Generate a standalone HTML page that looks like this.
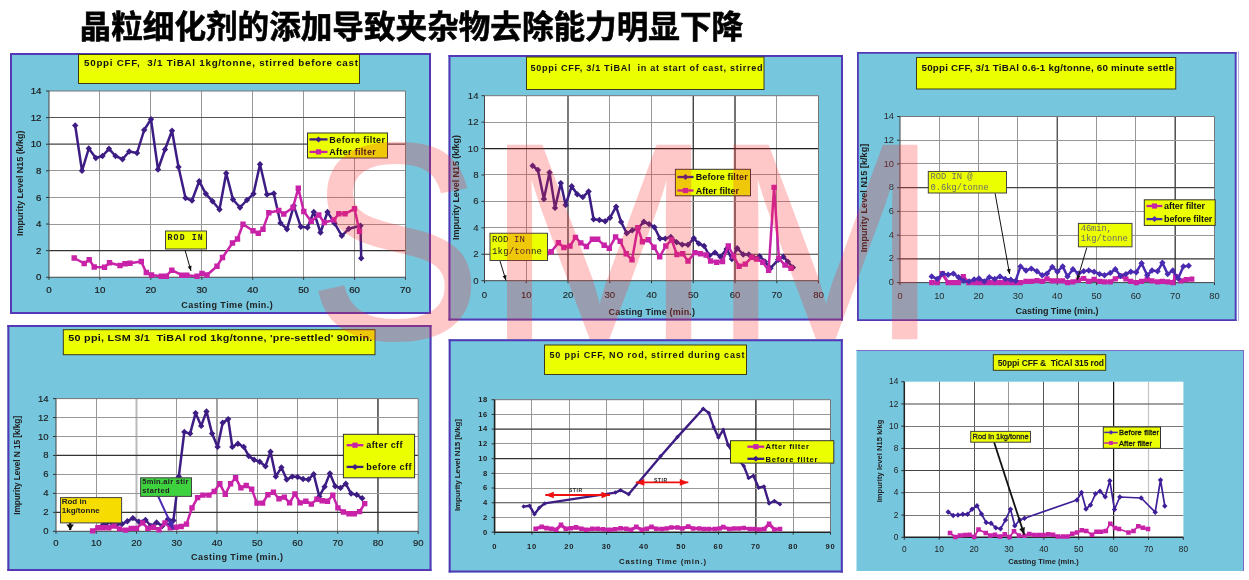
<!DOCTYPE html>
<html lang="zh-CN">
<head>
<meta charset="utf-8">
<title>晶粒细化剂的添加导致夹杂物去除能力明显下降</title>
<style>
html,body{margin:0;padding:0;background:#fff;overflow:hidden}
body{width:1249px;height:580px;position:relative;font-family:"Liberation Sans","Noto Sans CJK SC",sans-serif}
svg{position:absolute;left:0;top:0;display:block}
svg text{font-family:"Liberation Sans","Noto Sans CJK SC",sans-serif}
svg text.mono{font-family:"Liberation Mono","DejaVu Sans Mono",monospace}
h1{position:absolute;margin:0;-webkit-text-stroke:0.6px #000;left:79.6px;top:6.8px;font-size:31.6px;line-height:40px;font-weight:bold;color:#000;white-space:nowrap;letter-spacing:0px;font-family:"Liberation Sans","Noto Sans CJK SC",sans-serif}
.wm{position:absolute;top:102.2px;font-size:272px;line-height:1;color:#ff2a2a;-webkit-text-stroke:2.6px #ff2a2a;opacity:0.25;font-weight:normal;white-space:nowrap;font-family:"Liberation Sans",sans-serif;pointer-events:none;transform-origin:0 0}
.wmark{position:absolute;left:0;top:0;width:1249px;height:580px;overflow:hidden;pointer-events:none}
.wm{display:block}
.wms{left:307.5px;transform:scale(0.9586,1.026)}
.wmm{left:485.7px;transform:scale(0.9985,1.026)}
</style>
</head>
<body>
<h1>晶粒细化剂的添加导致夹杂物去除能力明显下降</h1>
<svg width="1249" height="580" viewBox="0 0 1249 580">
<rect x="10.00" y="53.00" width="421.00" height="261.00" fill="#76C6DE" stroke="none" stroke-width="1" />
<line x1="10.00" y1="54.00" x2="431.00" y2="54.00" stroke="#5438B6" stroke-width="2" />
<line x1="10.00" y1="313.00" x2="431.00" y2="313.00" stroke="#5438B6" stroke-width="2" />
<line x1="11.00" y1="53.00" x2="11.00" y2="314.00" stroke="#5438B6" stroke-width="2" />
<line x1="430.00" y1="53.00" x2="430.00" y2="314.00" stroke="#5438B6" stroke-width="2" />
<rect x="78.50" y="54.50" width="281.00" height="29.00" fill="#EBFF00" stroke="#3a3a20" stroke-width="1" />
<text x="84.00" y="66.30" font-size="9.8" font-weight="bold" text-anchor="start" fill="#141414" style="white-space:pre" textLength="274.0" lengthAdjust="spacing">50ppi CFF,  3/1 TiBAl 1kg/tonne, stirred before cast</text>
<rect x="49.00" y="91.00" width="356.50" height="186.25" fill="#fff" stroke="none" stroke-width="1" />
<line x1="49.00" y1="277.25" x2="49.00" y2="279.75" stroke="#333" stroke-width="1" />
<text x="49.00" y="293.20" font-size="9.7" font-weight="normal" text-anchor="middle" fill="#1c1c1c" stroke="#1c1c1c" stroke-width="0.22">0</text>
<line x1="99.50" y1="91.00" x2="99.50" y2="277.25" stroke="#989898" stroke-width="1" />
<line x1="99.93" y1="277.25" x2="99.93" y2="279.75" stroke="#333" stroke-width="1" />
<text x="99.93" y="293.20" font-size="9.7" font-weight="normal" text-anchor="middle" fill="#1c1c1c" stroke="#1c1c1c" stroke-width="0.22">10</text>
<line x1="150.50" y1="91.00" x2="150.50" y2="277.25" stroke="#989898" stroke-width="1" />
<line x1="150.86" y1="277.25" x2="150.86" y2="279.75" stroke="#333" stroke-width="1" />
<text x="150.86" y="293.20" font-size="9.7" font-weight="normal" text-anchor="middle" fill="#1c1c1c" stroke="#1c1c1c" stroke-width="0.22">20</text>
<line x1="201.50" y1="91.00" x2="201.50" y2="277.25" stroke="#989898" stroke-width="1" />
<line x1="201.79" y1="277.25" x2="201.79" y2="279.75" stroke="#333" stroke-width="1" />
<text x="201.79" y="293.20" font-size="9.7" font-weight="normal" text-anchor="middle" fill="#1c1c1c" stroke="#1c1c1c" stroke-width="0.22">30</text>
<line x1="252.50" y1="91.00" x2="252.50" y2="277.25" stroke="#989898" stroke-width="1" />
<line x1="252.71" y1="277.25" x2="252.71" y2="279.75" stroke="#333" stroke-width="1" />
<text x="252.71" y="293.20" font-size="9.7" font-weight="normal" text-anchor="middle" fill="#1c1c1c" stroke="#1c1c1c" stroke-width="0.22">40</text>
<line x1="303.50" y1="91.00" x2="303.50" y2="277.25" stroke="#989898" stroke-width="1" />
<line x1="303.64" y1="277.25" x2="303.64" y2="279.75" stroke="#333" stroke-width="1" />
<text x="303.64" y="293.20" font-size="9.7" font-weight="normal" text-anchor="middle" fill="#1c1c1c" stroke="#1c1c1c" stroke-width="0.22">50</text>
<line x1="354.50" y1="91.00" x2="354.50" y2="277.25" stroke="#989898" stroke-width="1" />
<line x1="354.57" y1="277.25" x2="354.57" y2="279.75" stroke="#333" stroke-width="1" />
<text x="354.57" y="293.20" font-size="9.7" font-weight="normal" text-anchor="middle" fill="#1c1c1c" stroke="#1c1c1c" stroke-width="0.22">60</text>
<line x1="405.50" y1="277.25" x2="405.50" y2="279.75" stroke="#333" stroke-width="1" />
<text x="405.50" y="293.20" font-size="9.7" font-weight="normal" text-anchor="middle" fill="#1c1c1c" stroke="#1c1c1c" stroke-width="0.22">70</text>
<line x1="46.00" y1="277.25" x2="49.00" y2="277.25" stroke="#333" stroke-width="1" />
<text x="41.50" y="280.34" font-size="9.7" font-weight="normal" text-anchor="end" fill="#1c1c1c" stroke="#1c1c1c" stroke-width="0.22">0</text>
<line x1="49.00" y1="250.64" x2="405.50" y2="250.64" stroke="#333" stroke-width="1.3" />
<line x1="46.00" y1="250.64" x2="49.00" y2="250.64" stroke="#333" stroke-width="1" />
<text x="41.50" y="253.73" font-size="9.7" font-weight="normal" text-anchor="end" fill="#1c1c1c" stroke="#1c1c1c" stroke-width="0.22">2</text>
<line x1="49.00" y1="224.50" x2="405.50" y2="224.50" stroke="#989898" stroke-width="1" />
<line x1="46.00" y1="224.04" x2="49.00" y2="224.04" stroke="#333" stroke-width="1" />
<text x="41.50" y="227.13" font-size="9.7" font-weight="normal" text-anchor="end" fill="#1c1c1c" stroke="#1c1c1c" stroke-width="0.22">4</text>
<line x1="49.00" y1="197.50" x2="405.50" y2="197.50" stroke="#989898" stroke-width="1" />
<line x1="46.00" y1="197.43" x2="49.00" y2="197.43" stroke="#333" stroke-width="1" />
<text x="41.50" y="200.52" font-size="9.7" font-weight="normal" text-anchor="end" fill="#1c1c1c" stroke="#1c1c1c" stroke-width="0.22">6</text>
<line x1="49.00" y1="170.50" x2="405.50" y2="170.50" stroke="#989898" stroke-width="1" />
<line x1="46.00" y1="170.82" x2="49.00" y2="170.82" stroke="#333" stroke-width="1" />
<text x="41.50" y="173.91" font-size="9.7" font-weight="normal" text-anchor="end" fill="#1c1c1c" stroke="#1c1c1c" stroke-width="0.22">8</text>
<line x1="49.00" y1="144.21" x2="405.50" y2="144.21" stroke="#444" stroke-width="1.2" />
<line x1="46.00" y1="144.21" x2="49.00" y2="144.21" stroke="#333" stroke-width="1" />
<text x="41.50" y="147.31" font-size="9.7" font-weight="normal" text-anchor="end" fill="#1c1c1c" stroke="#1c1c1c" stroke-width="0.22">10</text>
<line x1="49.00" y1="117.50" x2="405.50" y2="117.50" stroke="#555" stroke-width="1" />
<line x1="46.00" y1="117.61" x2="49.00" y2="117.61" stroke="#333" stroke-width="1" />
<text x="41.50" y="120.70" font-size="9.7" font-weight="normal" text-anchor="end" fill="#1c1c1c" stroke="#1c1c1c" stroke-width="0.22">12</text>
<line x1="46.00" y1="91.00" x2="49.00" y2="91.00" stroke="#333" stroke-width="1" />
<text x="41.50" y="94.09" font-size="9.7" font-weight="normal" text-anchor="end" fill="#1c1c1c" stroke="#1c1c1c" stroke-width="0.22">14</text>
<line x1="49.00" y1="91.00" x2="405.50" y2="91.00" stroke="#777" stroke-width="1" />
<line x1="405.50" y1="91.00" x2="405.50" y2="277.25" stroke="#777" stroke-width="1" />
<line x1="49.00" y1="277.25" x2="405.50" y2="277.25" stroke="#444" stroke-width="1" />
<line x1="49.00" y1="91.00" x2="49.00" y2="277.25" stroke="#444" stroke-width="1" />
<text x="227.00" y="308.20" font-size="9" font-weight="bold" text-anchor="middle" fill="#222"  textLength="91.5" lengthAdjust="spacing">Casting Time (min.)</text>
<text transform="translate(22.8 183.3) rotate(-90)" font-size="9" font-weight="bold" text-anchor="middle" fill="#222" textLength="105.4" lengthAdjust="spacing">Impurity Level N15 (k/kg)</text>
<polyline points="75.2,125.5 82.0,170.8 88.8,148.5 95.8,158.0 102.5,156.0 109.0,148.8 115.5,156.0 122.5,159.2 129.2,151.5 137.0,153.0 144.2,130.0 151.0,119.2 158.0,169.5 165.0,149.5 172.0,130.8 178.5,167.0 185.5,198.0 192.0,200.5 199.2,181.2 205.8,193.8 212.5,201.2 219.5,209.5 226.2,173.2 233.0,199.5 240.0,207.5 247.0,200.0 253.5,193.8 260.0,164.2 267.0,194.5 273.8,193.5 280.5,223.0 287.0,229.2 293.8,205.8 300.8,226.8 307.5,227.5 313.8,212.0 320.5,232.5 327.5,212.0 334.5,223.2 341.8,235.8 348.8,228.8 360.5,225.8 361.2,258.2" fill="none" stroke="#3D1D84" stroke-width="2.5" stroke-linejoin="round"/>
<path d="M75.2 122.3l3.2 3.2l-3.2 3.2l-3.2 -3.2zM82.0 167.6l3.2 3.2l-3.2 3.2l-3.2 -3.2zM88.8 145.3l3.2 3.2l-3.2 3.2l-3.2 -3.2zM95.8 154.8l3.2 3.2l-3.2 3.2l-3.2 -3.2zM102.5 152.8l3.2 3.2l-3.2 3.2l-3.2 -3.2zM109.0 145.6l3.2 3.2l-3.2 3.2l-3.2 -3.2zM115.5 152.8l3.2 3.2l-3.2 3.2l-3.2 -3.2zM122.5 156.1l3.2 3.2l-3.2 3.2l-3.2 -3.2zM129.2 148.3l3.2 3.2l-3.2 3.2l-3.2 -3.2zM137.0 149.8l3.2 3.2l-3.2 3.2l-3.2 -3.2zM144.2 126.8l3.2 3.2l-3.2 3.2l-3.2 -3.2zM151.0 116.0l3.2 3.2l-3.2 3.2l-3.2 -3.2zM158.0 166.3l3.2 3.2l-3.2 3.2l-3.2 -3.2zM165.0 146.3l3.2 3.2l-3.2 3.2l-3.2 -3.2zM172.0 127.5l3.2 3.2l-3.2 3.2l-3.2 -3.2zM178.5 163.8l3.2 3.2l-3.2 3.2l-3.2 -3.2zM185.5 194.8l3.2 3.2l-3.2 3.2l-3.2 -3.2zM192.0 197.3l3.2 3.2l-3.2 3.2l-3.2 -3.2zM199.2 178.1l3.2 3.2l-3.2 3.2l-3.2 -3.2zM205.8 190.6l3.2 3.2l-3.2 3.2l-3.2 -3.2zM212.5 198.1l3.2 3.2l-3.2 3.2l-3.2 -3.2zM219.5 206.3l3.2 3.2l-3.2 3.2l-3.2 -3.2zM226.2 170.1l3.2 3.2l-3.2 3.2l-3.2 -3.2zM233.0 196.3l3.2 3.2l-3.2 3.2l-3.2 -3.2zM240.0 204.3l3.2 3.2l-3.2 3.2l-3.2 -3.2zM247.0 196.8l3.2 3.2l-3.2 3.2l-3.2 -3.2zM253.5 190.6l3.2 3.2l-3.2 3.2l-3.2 -3.2zM260.0 161.1l3.2 3.2l-3.2 3.2l-3.2 -3.2zM267.0 191.3l3.2 3.2l-3.2 3.2l-3.2 -3.2zM273.8 190.3l3.2 3.2l-3.2 3.2l-3.2 -3.2zM280.5 219.8l3.2 3.2l-3.2 3.2l-3.2 -3.2zM287.0 226.1l3.2 3.2l-3.2 3.2l-3.2 -3.2zM293.8 202.6l3.2 3.2l-3.2 3.2l-3.2 -3.2zM300.8 223.6l3.2 3.2l-3.2 3.2l-3.2 -3.2zM307.5 224.3l3.2 3.2l-3.2 3.2l-3.2 -3.2zM313.8 208.8l3.2 3.2l-3.2 3.2l-3.2 -3.2zM320.5 229.3l3.2 3.2l-3.2 3.2l-3.2 -3.2zM327.5 208.8l3.2 3.2l-3.2 3.2l-3.2 -3.2zM334.5 220.1l3.2 3.2l-3.2 3.2l-3.2 -3.2zM341.8 232.6l3.2 3.2l-3.2 3.2l-3.2 -3.2zM348.8 225.6l3.2 3.2l-3.2 3.2l-3.2 -3.2zM360.5 222.6l3.2 3.2l-3.2 3.2l-3.2 -3.2zM361.2 255.1l3.2 3.2l-3.2 3.2l-3.2 -3.2z" fill="#3D1D84"/>
<polyline points="74.2,258.0 84.2,263.5 89.2,259.8 94.2,267.0 104.5,267.2 109.5,262.8 120.0,265.5 125.0,263.8 130.0,263.2 141.2,261.5 146.2,272.5 151.5,275.0 161.2,276.2 166.2,276.2 171.8,270.2 181.8,275.2 186.8,275.2 197.0,276.2 202.0,273.5 207.0,275.0 217.0,266.2 222.5,257.5 232.5,243.0 237.5,239.0 243.0,224.2 253.0,230.8 258.2,233.2 263.0,229.2 268.8,212.8 278.8,210.5 283.8,214.0 293.0,207.5 298.3,188.3 303.8,211.5 311.2,221.2 318.8,215.0 324.2,222.5 333.8,220.0 338.8,213.8 345.0,213.8 354.5,208.8 359.5,231.2" fill="none" stroke="#C822A8" stroke-width="2.5" stroke-linejoin="round"/>
<path d="M71.5 255.3h5.4v5.4h-5.4zM81.5 260.8h5.4v5.4h-5.4zM86.5 257.1h5.4v5.4h-5.4zM91.5 264.3h5.4v5.4h-5.4zM101.8 264.6h5.4v5.4h-5.4zM106.8 260.1h5.4v5.4h-5.4zM117.3 262.8h5.4v5.4h-5.4zM122.3 261.1h5.4v5.4h-5.4zM127.3 260.6h5.4v5.4h-5.4zM138.6 258.8h5.4v5.4h-5.4zM143.6 269.8h5.4v5.4h-5.4zM148.8 272.3h5.4v5.4h-5.4zM158.6 273.6h5.4v5.4h-5.4zM163.6 273.6h5.4v5.4h-5.4zM169.1 267.6h5.4v5.4h-5.4zM179.1 272.6h5.4v5.4h-5.4zM184.1 272.6h5.4v5.4h-5.4zM194.3 273.6h5.4v5.4h-5.4zM199.3 270.8h5.4v5.4h-5.4zM204.3 272.3h5.4v5.4h-5.4zM214.3 263.6h5.4v5.4h-5.4zM219.8 254.8h5.4v5.4h-5.4zM229.8 240.3h5.4v5.4h-5.4zM234.8 236.3h5.4v5.4h-5.4zM240.3 221.6h5.4v5.4h-5.4zM250.3 228.1h5.4v5.4h-5.4zM255.6 230.6h5.4v5.4h-5.4zM260.3 226.6h5.4v5.4h-5.4zM266.1 210.1h5.4v5.4h-5.4zM276.1 207.8h5.4v5.4h-5.4zM281.1 211.3h5.4v5.4h-5.4zM290.3 204.8h5.4v5.4h-5.4zM295.6 185.6h5.4v5.4h-5.4zM301.1 208.8h5.4v5.4h-5.4zM308.6 218.6h5.4v5.4h-5.4zM316.1 212.3h5.4v5.4h-5.4zM321.6 219.8h5.4v5.4h-5.4zM331.1 217.3h5.4v5.4h-5.4zM336.1 211.1h5.4v5.4h-5.4zM342.3 211.1h5.4v5.4h-5.4zM351.8 206.1h5.4v5.4h-5.4zM356.8 228.6h5.4v5.4h-5.4z" fill="#C822A8"/>
<rect x="307.50" y="133.00" width="80.00" height="25.00" fill="#EBFF00" stroke="#333" stroke-width="1" />
<line x1="309.50" y1="139.40" x2="327.50" y2="139.40" stroke="#3D1D84" stroke-width="2.3" />
<path d="M318.5 136.4l3.0 3.0l-3.0 3.0l-3.0 -3.0z" fill="#3D1D84"/>
<text x="329.25" y="142.64" font-size="9" font-weight="bold" text-anchor="start" fill="#111"  textLength="55.8" lengthAdjust="spacing">Before filter</text>
<line x1="309.50" y1="151.90" x2="327.50" y2="151.90" stroke="#C822A8" stroke-width="2.3" />
<rect x="315.90" y="149.30" width="5.20" height="5.20" fill="#C822A8" stroke="none" stroke-width="1" />
<text x="329.25" y="155.14" font-size="9" font-weight="bold" text-anchor="start" fill="#111"  textLength="46.5" lengthAdjust="spacing">After filter</text>
<line x1="185.00" y1="250.00" x2="191.00" y2="271.00" stroke="#111" stroke-width="1" />
<path d="M191.0 271.0L187.7 266.7L191.5 265.6z" fill="#111"/>
<rect x="165.50" y="231.00" width="41.00" height="18.00" fill="#EBFF00" stroke="#444" stroke-width="1" />
<text class="mono" x="167.60" y="239.60" font-size="8.2" font-weight="bold" text-anchor="start" fill="#222"  textLength="35.0" lengthAdjust="spacing">ROD IN</text>
<rect x="448.50" y="55.00" width="394.50" height="265.50" fill="#76C6DE" stroke="none" stroke-width="1" />
<line x1="448.50" y1="56.00" x2="843.00" y2="56.00" stroke="#5438B6" stroke-width="2" />
<line x1="448.50" y1="319.50" x2="843.00" y2="319.50" stroke="#5438B6" stroke-width="2" />
<line x1="449.50" y1="55.00" x2="449.50" y2="320.50" stroke="#5438B6" stroke-width="2" />
<line x1="842.00" y1="55.00" x2="842.00" y2="320.50" stroke="#5438B6" stroke-width="2" />
<rect x="526.50" y="57.00" width="237.50" height="32.50" fill="#EBFF00" stroke="#3a3a20" stroke-width="1" />
<text x="530.50" y="71.30" font-size="9.1" font-weight="bold" text-anchor="start" fill="#141414" style="white-space:pre" textLength="232.0" lengthAdjust="spacing">50ppi CFF, 3/1 TiBAl  in at start of cast, stirred</text>
<rect x="484.50" y="95.70" width="334.00" height="185.00" fill="#fff" stroke="none" stroke-width="1" />
<line x1="484.50" y1="280.70" x2="484.50" y2="283.20" stroke="#333" stroke-width="1" />
<text x="484.50" y="298.30" font-size="9.6" font-weight="normal" text-anchor="middle" fill="#222" stroke="#222" stroke-width="0.1">0</text>
<line x1="526.50" y1="95.70" x2="526.50" y2="280.70" stroke="#989898" stroke-width="1" />
<line x1="526.25" y1="280.70" x2="526.25" y2="283.20" stroke="#333" stroke-width="1" />
<text x="526.25" y="298.30" font-size="9.6" font-weight="normal" text-anchor="middle" fill="#222" stroke="#222" stroke-width="0.1">10</text>
<line x1="568.00" y1="95.70" x2="568.00" y2="280.70" stroke="#222" stroke-width="1.2" />
<line x1="568.00" y1="280.70" x2="568.00" y2="283.20" stroke="#333" stroke-width="1" />
<text x="568.00" y="298.30" font-size="9.6" font-weight="normal" text-anchor="middle" fill="#222" stroke="#222" stroke-width="0.1">20</text>
<line x1="609.50" y1="95.70" x2="609.50" y2="280.70" stroke="#989898" stroke-width="1" />
<line x1="609.75" y1="280.70" x2="609.75" y2="283.20" stroke="#333" stroke-width="1" />
<text x="609.75" y="298.30" font-size="9.6" font-weight="normal" text-anchor="middle" fill="#222" stroke="#222" stroke-width="0.1">30</text>
<line x1="651.50" y1="95.70" x2="651.50" y2="280.70" stroke="#989898" stroke-width="1" />
<line x1="651.50" y1="280.70" x2="651.50" y2="283.20" stroke="#333" stroke-width="1" />
<text x="651.50" y="298.30" font-size="9.6" font-weight="normal" text-anchor="middle" fill="#222" stroke="#222" stroke-width="0.1">40</text>
<line x1="693.25" y1="95.70" x2="693.25" y2="280.70" stroke="#222" stroke-width="1.2" />
<line x1="693.25" y1="280.70" x2="693.25" y2="283.20" stroke="#333" stroke-width="1" />
<text x="693.25" y="298.30" font-size="9.6" font-weight="normal" text-anchor="middle" fill="#222" stroke="#222" stroke-width="0.1">50</text>
<line x1="735.00" y1="95.70" x2="735.00" y2="280.70" stroke="#444" stroke-width="1.5" />
<line x1="735.00" y1="280.70" x2="735.00" y2="283.20" stroke="#333" stroke-width="1" />
<text x="735.00" y="298.30" font-size="9.6" font-weight="normal" text-anchor="middle" fill="#222" stroke="#222" stroke-width="0.1">60</text>
<line x1="776.50" y1="95.70" x2="776.50" y2="280.70" stroke="#989898" stroke-width="1" />
<line x1="776.75" y1="280.70" x2="776.75" y2="283.20" stroke="#333" stroke-width="1" />
<text x="776.75" y="298.30" font-size="9.6" font-weight="normal" text-anchor="middle" fill="#222" stroke="#222" stroke-width="0.1">70</text>
<line x1="818.50" y1="280.70" x2="818.50" y2="283.20" stroke="#333" stroke-width="1" />
<text x="818.50" y="298.30" font-size="9.6" font-weight="normal" text-anchor="middle" fill="#222" stroke="#222" stroke-width="0.1">80</text>
<line x1="481.50" y1="280.70" x2="484.50" y2="280.70" stroke="#333" stroke-width="1" />
<text x="478.50" y="283.76" font-size="9.6" font-weight="normal" text-anchor="end" fill="#222" stroke="#222" stroke-width="0.1">0</text>
<line x1="484.50" y1="254.27" x2="818.50" y2="254.27" stroke="#333" stroke-width="1.2" />
<line x1="481.50" y1="254.27" x2="484.50" y2="254.27" stroke="#333" stroke-width="1" />
<text x="478.50" y="257.33" font-size="9.6" font-weight="normal" text-anchor="end" fill="#222" stroke="#222" stroke-width="0.1">2</text>
<line x1="484.50" y1="227.50" x2="818.50" y2="227.50" stroke="#989898" stroke-width="1" />
<line x1="481.50" y1="227.84" x2="484.50" y2="227.84" stroke="#333" stroke-width="1" />
<text x="478.50" y="230.90" font-size="9.6" font-weight="normal" text-anchor="end" fill="#222" stroke="#222" stroke-width="0.1">4</text>
<line x1="484.50" y1="201.50" x2="818.50" y2="201.50" stroke="#989898" stroke-width="1" />
<line x1="481.50" y1="201.41" x2="484.50" y2="201.41" stroke="#333" stroke-width="1" />
<text x="478.50" y="204.47" font-size="9.6" font-weight="normal" text-anchor="end" fill="#222" stroke="#222" stroke-width="0.1">6</text>
<line x1="484.50" y1="174.50" x2="818.50" y2="174.50" stroke="#989898" stroke-width="1" />
<line x1="481.50" y1="174.99" x2="484.50" y2="174.99" stroke="#333" stroke-width="1" />
<text x="478.50" y="178.04" font-size="9.6" font-weight="normal" text-anchor="end" fill="#222" stroke="#222" stroke-width="0.1">8</text>
<line x1="484.50" y1="148.56" x2="818.50" y2="148.56" stroke="#222" stroke-width="1.2" />
<line x1="481.50" y1="148.56" x2="484.50" y2="148.56" stroke="#333" stroke-width="1" />
<text x="478.50" y="151.61" font-size="9.6" font-weight="normal" text-anchor="end" fill="#222" stroke="#222" stroke-width="0.1">10</text>
<line x1="484.50" y1="122.50" x2="818.50" y2="122.50" stroke="#989898" stroke-width="1" />
<line x1="481.50" y1="122.13" x2="484.50" y2="122.13" stroke="#333" stroke-width="1" />
<text x="478.50" y="125.18" font-size="9.6" font-weight="normal" text-anchor="end" fill="#222" stroke="#222" stroke-width="0.1">12</text>
<line x1="481.50" y1="95.70" x2="484.50" y2="95.70" stroke="#333" stroke-width="1" />
<text x="478.50" y="98.76" font-size="9.6" font-weight="normal" text-anchor="end" fill="#222" stroke="#222" stroke-width="0.1">14</text>
<line x1="484.50" y1="95.70" x2="818.50" y2="95.70" stroke="#777" stroke-width="1" />
<line x1="818.50" y1="95.70" x2="818.50" y2="280.70" stroke="#777" stroke-width="1" />
<line x1="484.50" y1="280.70" x2="818.50" y2="280.70" stroke="#444" stroke-width="1" />
<line x1="484.50" y1="95.70" x2="484.50" y2="280.70" stroke="#444" stroke-width="1" />
<text x="651.75" y="315.20" font-size="9" font-weight="bold" text-anchor="middle" fill="#222"  textLength="86.5" lengthAdjust="spacing">Casting Time (min.)</text>
<text transform="translate(458.9 187.5) rotate(-90)" font-size="9" font-weight="bold" text-anchor="middle" fill="#222" textLength="105.0" lengthAdjust="spacing">Impurity Level N15 (k/kg)</text>
<polyline points="532.6,165.7 537.9,170.0 543.9,199.0 549.5,172.4 555.0,207.9 560.8,183.1 565.6,205.0 571.7,186.2 577.2,194.2 582.8,197.1 588.6,191.5 593.6,219.3 599.4,220.0 605.2,221.2 610.0,217.8 616.1,206.7 621.1,221.9 626.7,233.3 632.2,230.4 638.0,228.4 643.8,221.7 649.1,224.1 654.4,227.2 660.0,238.6 665.3,238.6 670.8,236.9 676.6,242.2 682.2,244.6 688.0,244.8 693.8,238.3 698.8,243.6 704.1,246.0 709.4,255.5 715.0,252.6 720.5,256.9 726.6,248.9 731.9,259.1 737.2,248.2 743.2,254.5 748.8,254.5 754.3,257.9 759.6,256.2 764.9,261.5 770.5,268.2 778.2,259.8 783.3,256.7 787.9,261.7 792.9,267.5" fill="none" stroke="#3D1D84" stroke-width="2.5" stroke-linejoin="round"/>
<path d="M532.6 162.5l3.2 3.2l-3.2 3.2l-3.2 -3.2zM537.9 166.8l3.2 3.2l-3.2 3.2l-3.2 -3.2zM543.9 195.8l3.2 3.2l-3.2 3.2l-3.2 -3.2zM549.5 169.2l3.2 3.2l-3.2 3.2l-3.2 -3.2zM555.0 204.7l3.2 3.2l-3.2 3.2l-3.2 -3.2zM560.8 179.9l3.2 3.2l-3.2 3.2l-3.2 -3.2zM565.6 201.8l3.2 3.2l-3.2 3.2l-3.2 -3.2zM571.7 183.0l3.2 3.2l-3.2 3.2l-3.2 -3.2zM577.2 191.0l3.2 3.2l-3.2 3.2l-3.2 -3.2zM582.8 193.9l3.2 3.2l-3.2 3.2l-3.2 -3.2zM588.6 188.3l3.2 3.2l-3.2 3.2l-3.2 -3.2zM593.6 216.1l3.2 3.2l-3.2 3.2l-3.2 -3.2zM599.4 216.8l3.2 3.2l-3.2 3.2l-3.2 -3.2zM605.2 218.0l3.2 3.2l-3.2 3.2l-3.2 -3.2zM610.0 214.6l3.2 3.2l-3.2 3.2l-3.2 -3.2zM616.1 203.5l3.2 3.2l-3.2 3.2l-3.2 -3.2zM621.1 218.7l3.2 3.2l-3.2 3.2l-3.2 -3.2zM626.7 230.1l3.2 3.2l-3.2 3.2l-3.2 -3.2zM632.2 227.2l3.2 3.2l-3.2 3.2l-3.2 -3.2zM638.0 225.2l3.2 3.2l-3.2 3.2l-3.2 -3.2zM643.8 218.5l3.2 3.2l-3.2 3.2l-3.2 -3.2zM649.1 220.9l3.2 3.2l-3.2 3.2l-3.2 -3.2zM654.4 224.0l3.2 3.2l-3.2 3.2l-3.2 -3.2zM660.0 235.4l3.2 3.2l-3.2 3.2l-3.2 -3.2zM665.3 235.4l3.2 3.2l-3.2 3.2l-3.2 -3.2zM670.8 233.7l3.2 3.2l-3.2 3.2l-3.2 -3.2zM676.6 239.0l3.2 3.2l-3.2 3.2l-3.2 -3.2zM682.2 241.4l3.2 3.2l-3.2 3.2l-3.2 -3.2zM688.0 241.6l3.2 3.2l-3.2 3.2l-3.2 -3.2zM693.8 235.1l3.2 3.2l-3.2 3.2l-3.2 -3.2zM698.8 240.4l3.2 3.2l-3.2 3.2l-3.2 -3.2zM704.1 242.8l3.2 3.2l-3.2 3.2l-3.2 -3.2zM709.4 252.3l3.2 3.2l-3.2 3.2l-3.2 -3.2zM715.0 249.4l3.2 3.2l-3.2 3.2l-3.2 -3.2zM720.5 253.7l3.2 3.2l-3.2 3.2l-3.2 -3.2zM726.6 245.7l3.2 3.2l-3.2 3.2l-3.2 -3.2zM731.9 255.9l3.2 3.2l-3.2 3.2l-3.2 -3.2zM737.2 245.0l3.2 3.2l-3.2 3.2l-3.2 -3.2zM743.2 251.3l3.2 3.2l-3.2 3.2l-3.2 -3.2zM748.8 251.3l3.2 3.2l-3.2 3.2l-3.2 -3.2zM754.3 254.7l3.2 3.2l-3.2 3.2l-3.2 -3.2zM759.6 253.0l3.2 3.2l-3.2 3.2l-3.2 -3.2zM764.9 258.3l3.2 3.2l-3.2 3.2l-3.2 -3.2zM770.5 265.0l3.2 3.2l-3.2 3.2l-3.2 -3.2zM778.2 256.6l3.2 3.2l-3.2 3.2l-3.2 -3.2zM783.3 253.5l3.2 3.2l-3.2 3.2l-3.2 -3.2zM787.9 258.5l3.2 3.2l-3.2 3.2l-3.2 -3.2zM792.9 264.3l3.2 3.2l-3.2 3.2l-3.2 -3.2z" fill="#3D1D84"/>
<polyline points="545.8,253.3 551.2,251.8 558.4,242.7 563.9,247.5 570.0,246.0 575.5,237.4 580.8,242.9 586.4,246.5 592.4,239.3 597.7,239.3 604.2,245.3 609.3,248.2 615.6,236.9 620.2,241.2 626.2,253.8 632.0,259.8 637.8,227.7 642.4,241.7 648.2,239.8 654.0,247.2 659.7,256.7 665.8,246.0 671.6,239.8 676.9,254.5 682.7,253.8 688.0,261.0 695.0,252.6 700.5,253.8 706.1,255.0 710.6,261.0 716.7,262.2 722.5,261.5 728.3,246.0 733.6,256.2 739.1,266.3 745.2,264.1 751.7,257.4 756.7,259.1 762.8,262.2 768.6,270.2 774.1,187.4 778.9,258.6 785.0,265.1 791.0,268.2" fill="none" stroke="#C822A8" stroke-width="2.5" stroke-linejoin="round"/>
<path d="M543.1 250.6h5.4v5.4h-5.4zM548.5 249.1h5.4v5.4h-5.4zM555.7 240.0h5.4v5.4h-5.4zM561.2 244.8h5.4v5.4h-5.4zM567.3 243.3h5.4v5.4h-5.4zM572.8 234.7h5.4v5.4h-5.4zM578.1 240.2h5.4v5.4h-5.4zM583.7 243.8h5.4v5.4h-5.4zM589.7 236.6h5.4v5.4h-5.4zM595.0 236.6h5.4v5.4h-5.4zM601.5 242.6h5.4v5.4h-5.4zM606.6 245.5h5.4v5.4h-5.4zM612.9 234.2h5.4v5.4h-5.4zM617.5 238.5h5.4v5.4h-5.4zM623.5 251.1h5.4v5.4h-5.4zM629.3 257.1h5.4v5.4h-5.4zM635.1 225.0h5.4v5.4h-5.4zM639.7 239.0h5.4v5.4h-5.4zM645.5 237.1h5.4v5.4h-5.4zM651.3 244.5h5.4v5.4h-5.4zM657.0 254.0h5.4v5.4h-5.4zM663.1 243.3h5.4v5.4h-5.4zM668.9 237.1h5.4v5.4h-5.4zM674.2 251.8h5.4v5.4h-5.4zM680.0 251.1h5.4v5.4h-5.4zM685.3 258.3h5.4v5.4h-5.4zM692.3 249.9h5.4v5.4h-5.4zM697.8 251.1h5.4v5.4h-5.4zM703.4 252.3h5.4v5.4h-5.4zM707.9 258.3h5.4v5.4h-5.4zM714.0 259.5h5.4v5.4h-5.4zM719.8 258.8h5.4v5.4h-5.4zM725.6 243.3h5.4v5.4h-5.4zM730.9 253.5h5.4v5.4h-5.4zM736.4 263.6h5.4v5.4h-5.4zM742.5 261.4h5.4v5.4h-5.4zM749.0 254.7h5.4v5.4h-5.4zM754.0 256.4h5.4v5.4h-5.4zM760.1 259.5h5.4v5.4h-5.4zM765.9 267.5h5.4v5.4h-5.4zM771.4 184.7h5.4v5.4h-5.4zM776.2 255.9h5.4v5.4h-5.4zM782.3 262.4h5.4v5.4h-5.4zM788.3 265.5h5.4v5.4h-5.4z" fill="#C822A8"/>
<rect x="675.40" y="169.30" width="75.10" height="26.50" fill="#EBFF00" stroke="#333" stroke-width="1" />
<line x1="677.40" y1="177.00" x2="693.50" y2="177.00" stroke="#3D1D84" stroke-width="2.3" />
<path d="M685.5 174.0l3.0 3.0l-3.0 3.0l-3.0 -3.0z" fill="#3D1D84"/>
<text x="695.70" y="180.24" font-size="9" font-weight="bold" text-anchor="start" fill="#111"  textLength="52.0" lengthAdjust="spacing">Before filter</text>
<line x1="677.40" y1="190.50" x2="693.50" y2="190.50" stroke="#C822A8" stroke-width="2.3" />
<rect x="682.85" y="187.90" width="5.20" height="5.20" fill="#C822A8" stroke="none" stroke-width="1" />
<text x="695.70" y="193.74" font-size="9" font-weight="bold" text-anchor="start" fill="#111"  textLength="43.4" lengthAdjust="spacing">After filter</text>
<line x1="500.00" y1="261.00" x2="506.00" y2="280.50" stroke="#111" stroke-width="1" />
<path d="M506.0 280.5L502.6 276.3L506.4 275.1z" fill="#111"/>
<rect x="490.00" y="233.25" width="57.50" height="27.25" fill="#EBFF00" stroke="#444" stroke-width="1" />
<text class="mono" x="492.00" y="242.30" font-size="9" font-weight="normal" text-anchor="start" fill="#222"  textLength="33.0" lengthAdjust="spacing">ROD IN</text>
<text class="mono" x="492.00" y="254.20" font-size="9" font-weight="normal" text-anchor="start" fill="#222"  textLength="50.0" lengthAdjust="spacing">1kg/tonne</text>
<rect x="857.00" y="52.00" width="379.50" height="269.00" fill="#76C6DE" stroke="none" stroke-width="1" />
<line x1="857.00" y1="52.90" x2="1236.50" y2="52.90" stroke="#5438B6" stroke-width="1.8" />
<line x1="857.00" y1="320.10" x2="1236.50" y2="320.10" stroke="#5438B6" stroke-width="1.8" />
<line x1="857.90" y1="52.00" x2="857.90" y2="321.00" stroke="#5438B6" stroke-width="1.8" />
<line x1="1235.60" y1="52.00" x2="1235.60" y2="321.00" stroke="#5438B6" stroke-width="1.8" />
<line x1="1238.50" y1="51.50" x2="1238.50" y2="321.00" stroke="#B8B0E8" stroke-width="1" />
<rect x="916.50" y="57.50" width="259.25" height="31.50" fill="#EBFF00" stroke="#3a3a20" stroke-width="1" />
<text x="921.50" y="71.30" font-size="9.8" font-weight="bold" text-anchor="start" fill="#141414" style="white-space:pre" textLength="252.5" lengthAdjust="spacing">50ppi CFF, 3/1 TiBAl 0.6-1 kg/tonne, 60 minute settle</text>
<rect x="900.00" y="116.50" width="314.50" height="166.10" fill="#fff" stroke="none" stroke-width="1" />
<line x1="900.00" y1="282.60" x2="900.00" y2="285.10" stroke="#333" stroke-width="1" />
<text x="900.00" y="299.00" font-size="9.3" font-weight="normal" text-anchor="middle" fill="#2a2a2a" >0</text>
<line x1="939.50" y1="116.50" x2="939.50" y2="282.60" stroke="#989898" stroke-width="1" />
<line x1="939.31" y1="282.60" x2="939.31" y2="285.10" stroke="#333" stroke-width="1" />
<text x="939.31" y="299.00" font-size="9.3" font-weight="normal" text-anchor="middle" fill="#2a2a2a" >10</text>
<line x1="978.50" y1="116.50" x2="978.50" y2="282.60" stroke="#989898" stroke-width="1" />
<line x1="978.62" y1="282.60" x2="978.62" y2="285.10" stroke="#333" stroke-width="1" />
<text x="978.62" y="299.00" font-size="9.3" font-weight="normal" text-anchor="middle" fill="#2a2a2a" >20</text>
<line x1="1017.50" y1="116.50" x2="1017.50" y2="282.60" stroke="#989898" stroke-width="1" />
<line x1="1017.94" y1="282.60" x2="1017.94" y2="285.10" stroke="#333" stroke-width="1" />
<text x="1017.94" y="299.00" font-size="9.3" font-weight="normal" text-anchor="middle" fill="#2a2a2a" >30</text>
<line x1="1057.25" y1="116.50" x2="1057.25" y2="282.60" stroke="#444" stroke-width="1.3" />
<line x1="1057.25" y1="282.60" x2="1057.25" y2="285.10" stroke="#333" stroke-width="1" />
<text x="1057.25" y="299.00" font-size="9.3" font-weight="normal" text-anchor="middle" fill="#2a2a2a" >40</text>
<line x1="1096.50" y1="116.50" x2="1096.50" y2="282.60" stroke="#989898" stroke-width="1" />
<line x1="1096.56" y1="282.60" x2="1096.56" y2="285.10" stroke="#333" stroke-width="1" />
<text x="1096.56" y="299.00" font-size="9.3" font-weight="normal" text-anchor="middle" fill="#2a2a2a" >50</text>
<line x1="1135.50" y1="116.50" x2="1135.50" y2="282.60" stroke="#989898" stroke-width="1" />
<line x1="1135.88" y1="282.60" x2="1135.88" y2="285.10" stroke="#333" stroke-width="1" />
<text x="1135.88" y="299.00" font-size="9.3" font-weight="normal" text-anchor="middle" fill="#2a2a2a" >60</text>
<line x1="1175.19" y1="116.50" x2="1175.19" y2="282.60" stroke="#333" stroke-width="1.3" />
<line x1="1175.19" y1="282.60" x2="1175.19" y2="285.10" stroke="#333" stroke-width="1" />
<text x="1175.19" y="299.00" font-size="9.3" font-weight="normal" text-anchor="middle" fill="#2a2a2a" >70</text>
<line x1="1214.50" y1="282.60" x2="1214.50" y2="285.10" stroke="#333" stroke-width="1" />
<text x="1214.50" y="299.00" font-size="9.3" font-weight="normal" text-anchor="middle" fill="#2a2a2a" >80</text>
<line x1="897.00" y1="282.60" x2="900.00" y2="282.60" stroke="#333" stroke-width="1" />
<text x="894.00" y="285.15" font-size="9.3" font-weight="normal" text-anchor="end" fill="#2a2a2a" >0</text>
<line x1="900.00" y1="258.87" x2="1214.50" y2="258.87" stroke="#333" stroke-width="1.2" />
<line x1="897.00" y1="258.87" x2="900.00" y2="258.87" stroke="#333" stroke-width="1" />
<text x="894.00" y="261.42" font-size="9.3" font-weight="normal" text-anchor="end" fill="#2a2a2a" >2</text>
<line x1="900.00" y1="235.50" x2="1214.50" y2="235.50" stroke="#989898" stroke-width="1" />
<line x1="897.00" y1="235.14" x2="900.00" y2="235.14" stroke="#333" stroke-width="1" />
<text x="894.00" y="237.69" font-size="9.3" font-weight="normal" text-anchor="end" fill="#2a2a2a" >4</text>
<line x1="900.00" y1="211.50" x2="1214.50" y2="211.50" stroke="#989898" stroke-width="1" />
<line x1="897.00" y1="211.41" x2="900.00" y2="211.41" stroke="#333" stroke-width="1" />
<text x="894.00" y="213.96" font-size="9.3" font-weight="normal" text-anchor="end" fill="#2a2a2a" >6</text>
<line x1="900.00" y1="187.69" x2="1214.50" y2="187.69" stroke="#444" stroke-width="1.2" />
<line x1="897.00" y1="187.69" x2="900.00" y2="187.69" stroke="#333" stroke-width="1" />
<text x="894.00" y="190.23" font-size="9.3" font-weight="normal" text-anchor="end" fill="#2a2a2a" >8</text>
<line x1="900.00" y1="163.50" x2="1214.50" y2="163.50" stroke="#989898" stroke-width="1" />
<line x1="897.00" y1="163.96" x2="900.00" y2="163.96" stroke="#333" stroke-width="1" />
<text x="894.00" y="166.51" font-size="9.3" font-weight="normal" text-anchor="end" fill="#2a2a2a" >10</text>
<line x1="900.00" y1="140.50" x2="1214.50" y2="140.50" stroke="#989898" stroke-width="1" />
<line x1="897.00" y1="140.23" x2="900.00" y2="140.23" stroke="#333" stroke-width="1" />
<text x="894.00" y="142.78" font-size="9.3" font-weight="normal" text-anchor="end" fill="#2a2a2a" >12</text>
<line x1="897.00" y1="116.50" x2="900.00" y2="116.50" stroke="#333" stroke-width="1" />
<text x="894.00" y="119.05" font-size="9.3" font-weight="normal" text-anchor="end" fill="#2a2a2a" >14</text>
<line x1="900.00" y1="116.50" x2="1214.50" y2="116.50" stroke="#777" stroke-width="1" />
<line x1="1214.50" y1="116.50" x2="1214.50" y2="282.60" stroke="#777" stroke-width="1" />
<line x1="900.00" y1="282.60" x2="1214.50" y2="282.60" stroke="#444" stroke-width="1" />
<line x1="900.00" y1="116.50" x2="900.00" y2="282.60" stroke="#444" stroke-width="1" />
<text x="1057.00" y="314.00" font-size="9" font-weight="bold" text-anchor="middle" fill="#222"  textLength="83.0" lengthAdjust="spacing">Casting Time (min.)</text>
<text transform="translate(867.2 198.0) rotate(-90)" font-size="9" font-weight="bold" text-anchor="middle" fill="#222" textLength="108.5" lengthAdjust="spacing">Impurity Level N15 [k/kg]</text>
<polyline points="931.7,282.6 937.2,282.6 942.3,273.6 948.1,282.6 953.4,282.6 958.5,282.6 963.3,276.5 968.6,282.6 974.1,282.6 979.0,282.6 984.3,282.6 989.3,282.6 994.7,282.6 1000.0,282.6 1005.3,282.6 1010.8,282.6 1015.6,282.6 1020.5,282.6 1026.0,281.4 1031.3,281.4 1036.9,280.6 1042.2,281.4 1047.0,278.9 1052.3,280.9 1057.4,280.9 1062.7,280.9 1067.5,282.6 1072.9,281.8 1078.4,280.1 1083.7,278.5 1088.8,281.4 1094.1,279.4 1099.6,281.4 1104.5,281.8 1110.3,281.8 1115.3,278.9 1120.6,276.0 1125.9,278.9 1130.8,281.4 1136.3,282.6 1141.6,281.4 1147.2,279.4 1152.0,280.9 1157.6,281.8 1162.4,281.4 1167.7,281.8 1172.8,282.6 1175.7,276.5 1181.0,280.9 1186.3,279.7 1191.8,279.2" fill="none" stroke="#C822A8" stroke-width="3" stroke-linejoin="round"/>
<path d="M929.1 280.0h5.2v5.2h-5.2zM934.6 280.0h5.2v5.2h-5.2zM939.7 271.0h5.2v5.2h-5.2zM945.5 280.0h5.2v5.2h-5.2zM950.8 280.0h5.2v5.2h-5.2zM955.9 280.0h5.2v5.2h-5.2zM960.7 273.9h5.2v5.2h-5.2zM966.0 280.0h5.2v5.2h-5.2zM971.5 280.0h5.2v5.2h-5.2zM976.4 280.0h5.2v5.2h-5.2zM981.7 280.0h5.2v5.2h-5.2zM986.7 280.0h5.2v5.2h-5.2zM992.1 280.0h5.2v5.2h-5.2zM997.4 280.0h5.2v5.2h-5.2zM1002.7 280.0h5.2v5.2h-5.2zM1008.2 280.0h5.2v5.2h-5.2zM1013.0 280.0h5.2v5.2h-5.2zM1017.9 280.0h5.2v5.2h-5.2zM1023.4 278.8h5.2v5.2h-5.2zM1028.7 278.8h5.2v5.2h-5.2zM1034.3 278.0h5.2v5.2h-5.2zM1039.6 278.8h5.2v5.2h-5.2zM1044.4 276.3h5.2v5.2h-5.2zM1049.7 278.3h5.2v5.2h-5.2zM1054.8 278.3h5.2v5.2h-5.2zM1060.1 278.3h5.2v5.2h-5.2zM1064.9 280.0h5.2v5.2h-5.2zM1070.3 279.2h5.2v5.2h-5.2zM1075.8 277.5h5.2v5.2h-5.2zM1081.1 275.9h5.2v5.2h-5.2zM1086.2 278.8h5.2v5.2h-5.2zM1091.5 276.8h5.2v5.2h-5.2zM1097.0 278.8h5.2v5.2h-5.2zM1101.9 279.2h5.2v5.2h-5.2zM1107.7 279.2h5.2v5.2h-5.2zM1112.7 276.3h5.2v5.2h-5.2zM1118.0 273.4h5.2v5.2h-5.2zM1123.3 276.3h5.2v5.2h-5.2zM1128.2 278.8h5.2v5.2h-5.2zM1133.7 280.0h5.2v5.2h-5.2zM1139.0 278.8h5.2v5.2h-5.2zM1144.6 276.8h5.2v5.2h-5.2zM1149.4 278.3h5.2v5.2h-5.2zM1155.0 279.2h5.2v5.2h-5.2zM1159.8 278.8h5.2v5.2h-5.2zM1165.1 279.2h5.2v5.2h-5.2zM1170.2 280.0h5.2v5.2h-5.2zM1173.1 273.9h5.2v5.2h-5.2zM1178.4 278.3h5.2v5.2h-5.2zM1183.7 277.1h5.2v5.2h-5.2zM1189.2 276.6h5.2v5.2h-5.2z" fill="#C822A8"/>
<polyline points="931.7,276.5 937.2,278.9 942.8,273.6 948.1,274.8 953.4,273.6 958.5,277.2 963.8,280.9 969.1,281.4 974.1,279.4 979.0,278.5 984.3,281.4 989.3,277.2 994.7,278.9 1000.0,276.5 1005.3,278.9 1010.8,279.7 1015.6,280.9 1020.5,266.4 1026.0,270.5 1031.3,268.6 1036.9,271.2 1042.2,275.3 1047.0,273.6 1052.3,266.9 1057.4,271.7 1062.7,266.4 1067.5,276.5 1072.9,269.3 1078.4,273.6 1083.7,271.2 1088.8,270.5 1094.1,271.7 1099.6,274.1 1104.5,275.3 1110.3,272.9 1115.3,269.3 1120.6,276.0 1125.9,274.1 1130.8,271.7 1136.3,272.2 1141.6,263.3 1147.2,275.3 1152.0,270.5 1157.6,271.2 1162.4,262.8 1167.7,274.1 1172.8,270.5 1178.1,278.5 1183.4,266.4 1188.7,265.7" fill="none" stroke="#4A2AB0" stroke-width="2.5" stroke-linejoin="round"/>
<path d="M931.7 273.3l3.2 3.2l-3.2 3.2l-3.2 -3.2zM937.2 275.7l3.2 3.2l-3.2 3.2l-3.2 -3.2zM942.8 270.4l3.2 3.2l-3.2 3.2l-3.2 -3.2zM948.1 271.6l3.2 3.2l-3.2 3.2l-3.2 -3.2zM953.4 270.4l3.2 3.2l-3.2 3.2l-3.2 -3.2zM958.5 274.0l3.2 3.2l-3.2 3.2l-3.2 -3.2zM963.8 277.7l3.2 3.2l-3.2 3.2l-3.2 -3.2zM969.1 278.2l3.2 3.2l-3.2 3.2l-3.2 -3.2zM974.1 276.2l3.2 3.2l-3.2 3.2l-3.2 -3.2zM979.0 275.3l3.2 3.2l-3.2 3.2l-3.2 -3.2zM984.3 278.2l3.2 3.2l-3.2 3.2l-3.2 -3.2zM989.3 274.0l3.2 3.2l-3.2 3.2l-3.2 -3.2zM994.7 275.7l3.2 3.2l-3.2 3.2l-3.2 -3.2zM1000.0 273.3l3.2 3.2l-3.2 3.2l-3.2 -3.2zM1005.3 275.7l3.2 3.2l-3.2 3.2l-3.2 -3.2zM1010.8 276.5l3.2 3.2l-3.2 3.2l-3.2 -3.2zM1015.6 277.7l3.2 3.2l-3.2 3.2l-3.2 -3.2zM1020.5 263.2l3.2 3.2l-3.2 3.2l-3.2 -3.2zM1026.0 267.3l3.2 3.2l-3.2 3.2l-3.2 -3.2zM1031.3 265.4l3.2 3.2l-3.2 3.2l-3.2 -3.2zM1036.9 268.0l3.2 3.2l-3.2 3.2l-3.2 -3.2zM1042.2 272.1l3.2 3.2l-3.2 3.2l-3.2 -3.2zM1047.0 270.4l3.2 3.2l-3.2 3.2l-3.2 -3.2zM1052.3 263.7l3.2 3.2l-3.2 3.2l-3.2 -3.2zM1057.4 268.5l3.2 3.2l-3.2 3.2l-3.2 -3.2zM1062.7 263.2l3.2 3.2l-3.2 3.2l-3.2 -3.2zM1067.5 273.3l3.2 3.2l-3.2 3.2l-3.2 -3.2zM1072.9 266.1l3.2 3.2l-3.2 3.2l-3.2 -3.2zM1078.4 270.4l3.2 3.2l-3.2 3.2l-3.2 -3.2zM1083.7 268.0l3.2 3.2l-3.2 3.2l-3.2 -3.2zM1088.8 267.3l3.2 3.2l-3.2 3.2l-3.2 -3.2zM1094.1 268.5l3.2 3.2l-3.2 3.2l-3.2 -3.2zM1099.6 270.9l3.2 3.2l-3.2 3.2l-3.2 -3.2zM1104.5 272.1l3.2 3.2l-3.2 3.2l-3.2 -3.2zM1110.3 269.7l3.2 3.2l-3.2 3.2l-3.2 -3.2zM1115.3 266.1l3.2 3.2l-3.2 3.2l-3.2 -3.2zM1120.6 272.8l3.2 3.2l-3.2 3.2l-3.2 -3.2zM1125.9 270.9l3.2 3.2l-3.2 3.2l-3.2 -3.2zM1130.8 268.5l3.2 3.2l-3.2 3.2l-3.2 -3.2zM1136.3 269.0l3.2 3.2l-3.2 3.2l-3.2 -3.2zM1141.6 260.1l3.2 3.2l-3.2 3.2l-3.2 -3.2zM1147.2 272.1l3.2 3.2l-3.2 3.2l-3.2 -3.2zM1152.0 267.3l3.2 3.2l-3.2 3.2l-3.2 -3.2zM1157.6 268.0l3.2 3.2l-3.2 3.2l-3.2 -3.2zM1162.4 259.6l3.2 3.2l-3.2 3.2l-3.2 -3.2zM1167.7 270.9l3.2 3.2l-3.2 3.2l-3.2 -3.2zM1172.8 267.3l3.2 3.2l-3.2 3.2l-3.2 -3.2zM1178.1 275.3l3.2 3.2l-3.2 3.2l-3.2 -3.2zM1183.4 263.2l3.2 3.2l-3.2 3.2l-3.2 -3.2zM1188.7 262.5l3.2 3.2l-3.2 3.2l-3.2 -3.2z" fill="#4A2AB0"/>
<rect x="1144.30" y="199.80" width="70.90" height="25.60" fill="#EBFF00" stroke="#333" stroke-width="1" />
<line x1="1146.50" y1="206.00" x2="1162.40" y2="206.00" stroke="#C822A8" stroke-width="2.3" />
<rect x="1151.85" y="203.40" width="5.20" height="5.20" fill="#C822A8" stroke="none" stroke-width="1" />
<text x="1164.00" y="209.24" font-size="9" font-weight="bold" text-anchor="start" fill="#111"  textLength="41.0" lengthAdjust="spacing">after filter</text>
<line x1="1146.50" y1="219.10" x2="1162.40" y2="219.10" stroke="#4A2AB0" stroke-width="2.3" />
<path d="M1154.5 216.1l3.0 3.0l-3.0 3.0l-3.0 -3.0z" fill="#4A2AB0"/>
<text x="1164.00" y="222.34" font-size="9" font-weight="bold" text-anchor="start" fill="#111"  textLength="48.3" lengthAdjust="spacing">before filter</text>
<line x1="995.10" y1="193.30" x2="1009.60" y2="274.10" stroke="#111" stroke-width="1" />
<path d="M1009.6 274.1L1006.7 269.5L1010.7 268.8z" fill="#111"/>
<line x1="1086.80" y1="247.60" x2="1077.20" y2="280.10" stroke="#111" stroke-width="1" />
<path d="M1077.2 280.1L1076.7 274.7L1080.5 275.9z" fill="#111"/>
<rect x="928.30" y="171.50" width="78.20" height="21.50" fill="#EBFF00" stroke="#444" stroke-width="1" />
<text class="mono" x="930.50" y="179.00" font-size="8.8" font-weight="normal" text-anchor="start" fill="#6a6a6a"  textLength="42.0" lengthAdjust="spacing">ROD IN @</text>
<text class="mono" x="930.50" y="189.50" font-size="8.8" font-weight="normal" text-anchor="start" fill="#6a6a6a"  textLength="58.0" lengthAdjust="spacing">0.6kg/tonne</text>
<rect x="1078.40" y="223.40" width="53.60" height="23.40" fill="#EBFF00" stroke="#444" stroke-width="1" />
<text class="mono" x="1080.80" y="231.20" font-size="8.8" font-weight="normal" text-anchor="start" fill="#6a6a6a"  textLength="31.0" lengthAdjust="spacing">46min,</text>
<text class="mono" x="1080.80" y="240.80" font-size="8.8" font-weight="normal" text-anchor="start" fill="#6a6a6a"  textLength="47.0" lengthAdjust="spacing">1kg/tonne</text>
<rect x="7.40" y="325.00" width="424.10" height="246.00" fill="#76C6DE" stroke="none" stroke-width="1" />
<line x1="7.40" y1="326.00" x2="431.50" y2="326.00" stroke="#5438B6" stroke-width="2" />
<line x1="7.40" y1="570.00" x2="431.50" y2="570.00" stroke="#5438B6" stroke-width="2" />
<line x1="8.40" y1="325.00" x2="8.40" y2="571.00" stroke="#5438B6" stroke-width="2" />
<line x1="430.50" y1="325.00" x2="430.50" y2="571.00" stroke="#5438B6" stroke-width="2" />
<rect x="63.30" y="329.70" width="311.70" height="25.00" fill="#EBFF00" stroke="#3a3a20" stroke-width="1" />
<g transform="translate(68.30 341.30) scale(1.2 1)">
<text x="0.00" y="0.00" font-size="9" font-weight="bold" text-anchor="start" fill="#141414" style="white-space:pre" textLength="253.3" lengthAdjust="spacing">50 ppi, LSM 3/1  TiBAl rod 1kg/tonne, 'pre-settled' 90min.</text>
</g>
<rect x="56.00" y="398.60" width="362.20" height="132.70" fill="#fff" stroke="none" stroke-width="1" />
<line x1="56.00" y1="531.30" x2="56.00" y2="533.80" stroke="#333" stroke-width="1" />
<text x="56.00" y="546.20" font-size="9.5" font-weight="normal" text-anchor="middle" fill="#1c1c1c" stroke="#1c1c1c" stroke-width="0.15">0</text>
<line x1="96.50" y1="398.60" x2="96.50" y2="531.30" stroke="#989898" stroke-width="1" />
<line x1="96.24" y1="531.30" x2="96.24" y2="533.80" stroke="#333" stroke-width="1" />
<text x="96.24" y="546.20" font-size="9.5" font-weight="normal" text-anchor="middle" fill="#1c1c1c" stroke="#1c1c1c" stroke-width="0.15">10</text>
<line x1="136.49" y1="398.60" x2="136.49" y2="531.30" stroke="#bbb" stroke-width="2" />
<line x1="136.49" y1="531.30" x2="136.49" y2="533.80" stroke="#333" stroke-width="1" />
<text x="136.49" y="546.20" font-size="9.5" font-weight="normal" text-anchor="middle" fill="#1c1c1c" stroke="#1c1c1c" stroke-width="0.15">20</text>
<line x1="176.50" y1="398.60" x2="176.50" y2="531.30" stroke="#989898" stroke-width="1" />
<line x1="176.73" y1="531.30" x2="176.73" y2="533.80" stroke="#333" stroke-width="1" />
<text x="176.73" y="546.20" font-size="9.5" font-weight="normal" text-anchor="middle" fill="#1c1c1c" stroke="#1c1c1c" stroke-width="0.15">30</text>
<line x1="216.98" y1="398.60" x2="216.98" y2="531.30" stroke="#666" stroke-width="1.2" />
<line x1="216.98" y1="531.30" x2="216.98" y2="533.80" stroke="#333" stroke-width="1" />
<text x="216.98" y="546.20" font-size="9.5" font-weight="normal" text-anchor="middle" fill="#1c1c1c" stroke="#1c1c1c" stroke-width="0.15">40</text>
<line x1="257.50" y1="398.60" x2="257.50" y2="531.30" stroke="#989898" stroke-width="1" />
<line x1="257.22" y1="531.30" x2="257.22" y2="533.80" stroke="#333" stroke-width="1" />
<text x="257.22" y="546.20" font-size="9.5" font-weight="normal" text-anchor="middle" fill="#1c1c1c" stroke="#1c1c1c" stroke-width="0.15">50</text>
<line x1="297.50" y1="398.60" x2="297.50" y2="531.30" stroke="#989898" stroke-width="1" />
<line x1="297.47" y1="531.30" x2="297.47" y2="533.80" stroke="#333" stroke-width="1" />
<text x="297.47" y="546.20" font-size="9.5" font-weight="normal" text-anchor="middle" fill="#1c1c1c" stroke="#1c1c1c" stroke-width="0.15">60</text>
<line x1="337.50" y1="398.60" x2="337.50" y2="531.30" stroke="#989898" stroke-width="1" />
<line x1="337.71" y1="531.30" x2="337.71" y2="533.80" stroke="#333" stroke-width="1" />
<text x="337.71" y="546.20" font-size="9.5" font-weight="normal" text-anchor="middle" fill="#1c1c1c" stroke="#1c1c1c" stroke-width="0.15">70</text>
<line x1="377.96" y1="398.60" x2="377.96" y2="531.30" stroke="#222" stroke-width="1.3" />
<line x1="377.96" y1="531.30" x2="377.96" y2="533.80" stroke="#333" stroke-width="1" />
<text x="377.96" y="546.20" font-size="9.5" font-weight="normal" text-anchor="middle" fill="#1c1c1c" stroke="#1c1c1c" stroke-width="0.15">80</text>
<line x1="418.20" y1="531.30" x2="418.20" y2="533.80" stroke="#333" stroke-width="1" />
<text x="418.20" y="546.20" font-size="9.5" font-weight="normal" text-anchor="middle" fill="#1c1c1c" stroke="#1c1c1c" stroke-width="0.15">90</text>
<line x1="53.00" y1="531.30" x2="56.00" y2="531.30" stroke="#333" stroke-width="1" />
<text x="48.50" y="534.32" font-size="9.5" font-weight="normal" text-anchor="end" fill="#1c1c1c" stroke="#1c1c1c" stroke-width="0.15">0</text>
<line x1="56.00" y1="512.34" x2="418.20" y2="512.34" stroke="#333" stroke-width="1.2" />
<line x1="53.00" y1="512.34" x2="56.00" y2="512.34" stroke="#333" stroke-width="1" />
<text x="48.50" y="515.36" font-size="9.5" font-weight="normal" text-anchor="end" fill="#1c1c1c" stroke="#1c1c1c" stroke-width="0.15">2</text>
<line x1="56.00" y1="493.50" x2="418.20" y2="493.50" stroke="#989898" stroke-width="1" />
<line x1="53.00" y1="493.39" x2="56.00" y2="493.39" stroke="#333" stroke-width="1" />
<text x="48.50" y="496.41" font-size="9.5" font-weight="normal" text-anchor="end" fill="#1c1c1c" stroke="#1c1c1c" stroke-width="0.15">4</text>
<line x1="56.00" y1="474.50" x2="418.20" y2="474.50" stroke="#989898" stroke-width="1" />
<line x1="53.00" y1="474.43" x2="56.00" y2="474.43" stroke="#333" stroke-width="1" />
<text x="48.50" y="477.45" font-size="9.5" font-weight="normal" text-anchor="end" fill="#1c1c1c" stroke="#1c1c1c" stroke-width="0.15">6</text>
<line x1="56.00" y1="455.47" x2="418.20" y2="455.47" stroke="#333" stroke-width="1.2" />
<line x1="53.00" y1="455.47" x2="56.00" y2="455.47" stroke="#333" stroke-width="1" />
<text x="48.50" y="458.49" font-size="9.5" font-weight="normal" text-anchor="end" fill="#1c1c1c" stroke="#1c1c1c" stroke-width="0.15">8</text>
<line x1="56.00" y1="436.50" x2="418.20" y2="436.50" stroke="#989898" stroke-width="1" />
<line x1="53.00" y1="436.51" x2="56.00" y2="436.51" stroke="#333" stroke-width="1" />
<text x="48.50" y="439.53" font-size="9.5" font-weight="normal" text-anchor="end" fill="#1c1c1c" stroke="#1c1c1c" stroke-width="0.15">10</text>
<line x1="56.00" y1="417.50" x2="418.20" y2="417.50" stroke="#989898" stroke-width="1" />
<line x1="53.00" y1="417.56" x2="56.00" y2="417.56" stroke="#333" stroke-width="1" />
<text x="48.50" y="420.58" font-size="9.5" font-weight="normal" text-anchor="end" fill="#1c1c1c" stroke="#1c1c1c" stroke-width="0.15">12</text>
<line x1="53.00" y1="398.60" x2="56.00" y2="398.60" stroke="#333" stroke-width="1" />
<text x="48.50" y="401.62" font-size="9.5" font-weight="normal" text-anchor="end" fill="#1c1c1c" stroke="#1c1c1c" stroke-width="0.15">14</text>
<line x1="56.00" y1="398.60" x2="418.20" y2="398.60" stroke="#777" stroke-width="1" />
<line x1="418.20" y1="398.60" x2="418.20" y2="531.30" stroke="#777" stroke-width="1" />
<line x1="56.00" y1="531.30" x2="418.20" y2="531.30" stroke="#444" stroke-width="1" />
<line x1="56.00" y1="398.60" x2="56.00" y2="531.30" stroke="#444" stroke-width="1" />
<text x="237.00" y="560.00" font-size="9" font-weight="bold" text-anchor="middle" fill="#222"  textLength="92.0" lengthAdjust="spacing">Casting Time (min.)</text>
<text transform="translate(20.2 465.3) rotate(-90)" font-size="8.4" font-weight="bold" text-anchor="middle" fill="#222" textLength="99.0" lengthAdjust="spacing">Impurity Level N 15 [k/kg]</text>
<polyline points="103.2,524.6 105.6,524.1 111.2,522.4 116.7,524.6 122.0,524.1 127.4,521.2 132.9,518.1 138.9,521.7 145.5,520.0 151.0,526.0 156.6,522.4 162.3,526.0 167.9,519.3 173.4,520.5 178.8,476.6 184.3,431.9 190.1,433.6 195.6,413.1 201.2,425.9 206.5,411.4 212.1,433.6 217.6,446.9 222.7,422.8 228.2,419.1 232.3,446.9 237.9,443.7 243.8,446.9 248.8,456.1 254.1,459.7 259.7,461.8 265.5,466.2 270.5,451.7 275.8,476.6 281.4,467.4 286.7,479.5 292.3,476.6 297.6,477.0 303.1,479.0 308.4,479.5 313.7,474.2 319.3,496.4 324.6,486.7 329.9,473.4 335.2,486.2 340.5,487.9 345.8,483.8 351.1,493.5 356.7,494.7 362.2,498.3" fill="none" stroke="#3D1D84" stroke-width="2.5" stroke-linejoin="round"/>
<path d="M103.2 521.4l3.2 3.2l-3.2 3.2l-3.2 -3.2zM105.6 520.9l3.2 3.2l-3.2 3.2l-3.2 -3.2zM111.2 519.2l3.2 3.2l-3.2 3.2l-3.2 -3.2zM116.7 521.4l3.2 3.2l-3.2 3.2l-3.2 -3.2zM122.0 520.9l3.2 3.2l-3.2 3.2l-3.2 -3.2zM127.4 518.0l3.2 3.2l-3.2 3.2l-3.2 -3.2zM132.9 514.9l3.2 3.2l-3.2 3.2l-3.2 -3.2zM138.9 518.5l3.2 3.2l-3.2 3.2l-3.2 -3.2zM145.5 516.8l3.2 3.2l-3.2 3.2l-3.2 -3.2zM151.0 522.8l3.2 3.2l-3.2 3.2l-3.2 -3.2zM156.6 519.2l3.2 3.2l-3.2 3.2l-3.2 -3.2zM162.3 522.8l3.2 3.2l-3.2 3.2l-3.2 -3.2zM167.9 516.1l3.2 3.2l-3.2 3.2l-3.2 -3.2zM173.4 517.3l3.2 3.2l-3.2 3.2l-3.2 -3.2zM178.8 473.4l3.2 3.2l-3.2 3.2l-3.2 -3.2zM184.3 428.7l3.2 3.2l-3.2 3.2l-3.2 -3.2zM190.1 430.4l3.2 3.2l-3.2 3.2l-3.2 -3.2zM195.6 409.9l3.2 3.2l-3.2 3.2l-3.2 -3.2zM201.2 422.7l3.2 3.2l-3.2 3.2l-3.2 -3.2zM206.5 408.2l3.2 3.2l-3.2 3.2l-3.2 -3.2zM212.1 430.4l3.2 3.2l-3.2 3.2l-3.2 -3.2zM217.6 443.7l3.2 3.2l-3.2 3.2l-3.2 -3.2zM222.7 419.6l3.2 3.2l-3.2 3.2l-3.2 -3.2zM228.2 415.9l3.2 3.2l-3.2 3.2l-3.2 -3.2zM232.3 443.7l3.2 3.2l-3.2 3.2l-3.2 -3.2zM237.9 440.5l3.2 3.2l-3.2 3.2l-3.2 -3.2zM243.8 443.7l3.2 3.2l-3.2 3.2l-3.2 -3.2zM248.8 452.9l3.2 3.2l-3.2 3.2l-3.2 -3.2zM254.1 456.5l3.2 3.2l-3.2 3.2l-3.2 -3.2zM259.7 458.6l3.2 3.2l-3.2 3.2l-3.2 -3.2zM265.5 463.0l3.2 3.2l-3.2 3.2l-3.2 -3.2zM270.5 448.5l3.2 3.2l-3.2 3.2l-3.2 -3.2zM275.8 473.4l3.2 3.2l-3.2 3.2l-3.2 -3.2zM281.4 464.2l3.2 3.2l-3.2 3.2l-3.2 -3.2zM286.7 476.3l3.2 3.2l-3.2 3.2l-3.2 -3.2zM292.3 473.4l3.2 3.2l-3.2 3.2l-3.2 -3.2zM297.6 473.8l3.2 3.2l-3.2 3.2l-3.2 -3.2zM303.1 475.8l3.2 3.2l-3.2 3.2l-3.2 -3.2zM308.4 476.3l3.2 3.2l-3.2 3.2l-3.2 -3.2zM313.7 471.0l3.2 3.2l-3.2 3.2l-3.2 -3.2zM319.3 493.2l3.2 3.2l-3.2 3.2l-3.2 -3.2zM324.6 483.5l3.2 3.2l-3.2 3.2l-3.2 -3.2zM329.9 470.2l3.2 3.2l-3.2 3.2l-3.2 -3.2zM335.2 483.0l3.2 3.2l-3.2 3.2l-3.2 -3.2zM340.5 484.7l3.2 3.2l-3.2 3.2l-3.2 -3.2zM345.8 480.6l3.2 3.2l-3.2 3.2l-3.2 -3.2zM351.1 490.3l3.2 3.2l-3.2 3.2l-3.2 -3.2zM356.7 491.5l3.2 3.2l-3.2 3.2l-3.2 -3.2zM362.2 495.1l3.2 3.2l-3.2 3.2l-3.2 -3.2z" fill="#3D1D84"/>
<polyline points="92.6,530.9 97.9,527.7 103.2,527.7 108.8,527.7 114.3,526.0 119.6,528.9 125.7,530.1 131.2,528.4 136.5,528.4 142.6,522.9 147.9,528.4 153.4,527.2 159.0,529.7 165.0,522.9 170.3,527.7 175.9,527.2 181.2,526.5 186.5,524.1 192.0,507.9 197.6,497.6 202.9,495.1 208.9,495.1 214.2,491.5 219.8,483.8 225.3,494.4 230.6,483.8 235.6,477.8 240.9,487.9 246.2,485.5 251.7,489.1 257.0,503.1 262.6,503.1 267.9,494.7 273.4,492.2 279.0,498.8 284.3,497.1 289.6,502.9 294.9,493.9 300.2,502.9 305.8,501.2 311.3,504.1 316.9,499.2 322.2,500.7 327.5,501.2 332.8,495.1 337.9,507.9 343.4,512.0 349.0,513.7 354.3,513.7 359.6,511.6 364.7,503.6" fill="none" stroke="#C822A8" stroke-width="2.5" stroke-linejoin="round"/>
<path d="M89.9 528.2h5.4v5.4h-5.4zM95.2 525.0h5.4v5.4h-5.4zM100.5 525.0h5.4v5.4h-5.4zM106.1 525.0h5.4v5.4h-5.4zM111.6 523.3h5.4v5.4h-5.4zM116.9 526.2h5.4v5.4h-5.4zM123.0 527.4h5.4v5.4h-5.4zM128.5 525.7h5.4v5.4h-5.4zM133.8 525.7h5.4v5.4h-5.4zM139.9 520.2h5.4v5.4h-5.4zM145.2 525.7h5.4v5.4h-5.4zM150.7 524.5h5.4v5.4h-5.4zM156.3 527.0h5.4v5.4h-5.4zM162.3 520.2h5.4v5.4h-5.4zM167.6 525.0h5.4v5.4h-5.4zM173.2 524.5h5.4v5.4h-5.4zM178.5 523.8h5.4v5.4h-5.4zM183.8 521.4h5.4v5.4h-5.4zM189.3 505.2h5.4v5.4h-5.4zM194.9 494.9h5.4v5.4h-5.4zM200.2 492.4h5.4v5.4h-5.4zM206.2 492.4h5.4v5.4h-5.4zM211.5 488.8h5.4v5.4h-5.4zM217.1 481.1h5.4v5.4h-5.4zM222.6 491.7h5.4v5.4h-5.4zM227.9 481.1h5.4v5.4h-5.4zM232.9 475.1h5.4v5.4h-5.4zM238.2 485.2h5.4v5.4h-5.4zM243.5 482.8h5.4v5.4h-5.4zM249.0 486.4h5.4v5.4h-5.4zM254.3 500.4h5.4v5.4h-5.4zM259.9 500.4h5.4v5.4h-5.4zM265.2 492.0h5.4v5.4h-5.4zM270.7 489.5h5.4v5.4h-5.4zM276.3 496.1h5.4v5.4h-5.4zM281.6 494.4h5.4v5.4h-5.4zM286.9 500.2h5.4v5.4h-5.4zM292.2 491.2h5.4v5.4h-5.4zM297.5 500.2h5.4v5.4h-5.4zM303.1 498.5h5.4v5.4h-5.4zM308.6 501.4h5.4v5.4h-5.4zM314.2 496.5h5.4v5.4h-5.4zM319.5 498.0h5.4v5.4h-5.4zM324.8 498.5h5.4v5.4h-5.4zM330.1 492.4h5.4v5.4h-5.4zM335.2 505.2h5.4v5.4h-5.4zM340.7 509.3h5.4v5.4h-5.4zM346.3 511.0h5.4v5.4h-5.4zM351.6 511.0h5.4v5.4h-5.4zM356.9 508.9h5.4v5.4h-5.4zM362.0 500.9h5.4v5.4h-5.4z" fill="#C822A8"/>
<rect x="343.40" y="434.30" width="71.20" height="43.50" fill="#EBFF00" stroke="#333" stroke-width="1" />
<line x1="346.60" y1="445.20" x2="363.40" y2="445.20" stroke="#C822A8" stroke-width="2.3" />
<rect x="352.40" y="442.60" width="5.20" height="5.20" fill="#C822A8" stroke="none" stroke-width="1" />
<text x="366.30" y="448.44" font-size="9" font-weight="bold" text-anchor="start" fill="#111"  textLength="36.2" lengthAdjust="spacing">after cff</text>
<line x1="346.60" y1="466.90" x2="363.40" y2="466.90" stroke="#3D1D84" stroke-width="2.3" />
<path d="M355.0 463.9l3.0 3.0l-3.0 3.0l-3.0 -3.0z" fill="#3D1D84"/>
<text x="366.30" y="470.14" font-size="9" font-weight="bold" text-anchor="start" fill="#111"  textLength="45.1" lengthAdjust="spacing">before cff</text>
<line x1="70.20" y1="516.00" x2="70.20" y2="530.00" stroke="#111" stroke-width="2.2" />
<path d="M70.2 530.0L66.5 524.5L73.9 524.5z" fill="#111"/>
<line x1="158.20" y1="496.40" x2="173.50" y2="529.50" stroke="#4A2AB0" stroke-width="2" />
<path d="M173.5 529.5L166.5 523.4L173.4 520.2z" fill="#4A2AB0"/>
<rect x="60.50" y="497.60" width="61.10" height="25.30" fill="#F6DC00" stroke="#444" stroke-width="1" />
<text x="61.70" y="504.20" font-size="8" font-weight="bold" text-anchor="start" fill="#222"  textLength="24.9" lengthAdjust="spacing">Rod in</text>
<text x="61.70" y="512.60" font-size="8" font-weight="bold" text-anchor="start" fill="#222"  textLength="38.1" lengthAdjust="spacing">1kg/tonne</text>
<rect x="140.60" y="477.80" width="50.90" height="18.60" fill="#3ED23E" stroke="#444" stroke-width="1" />
<text x="142.30" y="484.20" font-size="7.5" font-weight="bold" text-anchor="start" fill="#222"  textLength="46.0" lengthAdjust="spacing">5min.air stir</text>
<text x="142.30" y="493.00" font-size="7.5" font-weight="bold" text-anchor="start" fill="#222"  textLength="27.3" lengthAdjust="spacing">started</text>
<rect x="448.70" y="339.20" width="394.10" height="233.30" fill="#76C6DE" stroke="none" stroke-width="1" />
<line x1="448.70" y1="340.20" x2="842.80" y2="340.20" stroke="#5438B6" stroke-width="2" />
<line x1="448.70" y1="571.50" x2="842.80" y2="571.50" stroke="#5438B6" stroke-width="2" />
<line x1="449.70" y1="339.20" x2="449.70" y2="572.50" stroke="#5438B6" stroke-width="2" />
<line x1="841.80" y1="339.20" x2="841.80" y2="572.50" stroke="#5438B6" stroke-width="2" />
<rect x="544.50" y="345.00" width="202.00" height="29.50" fill="#EBFF00" stroke="#3a3a20" stroke-width="1" />
<text x="549.50" y="358.20" font-size="9" font-weight="bold" text-anchor="start" fill="#141414" style="white-space:pre" textLength="195.0" lengthAdjust="spacing">50 ppi CFF, NO rod, stirred during cast</text>
<rect x="494.60" y="399.70" width="335.90" height="132.50" fill="#fff" stroke="none" stroke-width="1" />
<line x1="494.60" y1="532.20" x2="494.60" y2="534.70" stroke="#333" stroke-width="1" />
<text x="494.60" y="548.60" font-size="7.6" font-weight="bold" text-anchor="middle" fill="#222" letter-spacing="0.7">0</text>
<line x1="531.50" y1="399.70" x2="531.50" y2="532.20" stroke="#989898" stroke-width="1" />
<line x1="531.92" y1="532.20" x2="531.92" y2="534.70" stroke="#333" stroke-width="1" />
<text x="531.92" y="548.60" font-size="7.6" font-weight="bold" text-anchor="middle" fill="#222" letter-spacing="0.7">10</text>
<line x1="569.50" y1="399.70" x2="569.50" y2="532.20" stroke="#989898" stroke-width="1" />
<line x1="569.24" y1="532.20" x2="569.24" y2="534.70" stroke="#333" stroke-width="1" />
<text x="569.24" y="548.60" font-size="7.6" font-weight="bold" text-anchor="middle" fill="#222" letter-spacing="0.7">20</text>
<line x1="606.50" y1="399.70" x2="606.50" y2="532.20" stroke="#989898" stroke-width="1" />
<line x1="606.57" y1="532.20" x2="606.57" y2="534.70" stroke="#333" stroke-width="1" />
<text x="606.57" y="548.60" font-size="7.6" font-weight="bold" text-anchor="middle" fill="#222" letter-spacing="0.7">30</text>
<line x1="643.50" y1="399.70" x2="643.50" y2="532.20" stroke="#989898" stroke-width="1" />
<line x1="643.89" y1="532.20" x2="643.89" y2="534.70" stroke="#333" stroke-width="1" />
<text x="643.89" y="548.60" font-size="7.6" font-weight="bold" text-anchor="middle" fill="#222" letter-spacing="0.7">40</text>
<line x1="681.50" y1="399.70" x2="681.50" y2="532.20" stroke="#989898" stroke-width="1" />
<line x1="681.21" y1="532.20" x2="681.21" y2="534.70" stroke="#333" stroke-width="1" />
<text x="681.21" y="548.60" font-size="7.6" font-weight="bold" text-anchor="middle" fill="#222" letter-spacing="0.7">50</text>
<line x1="718.50" y1="399.70" x2="718.50" y2="532.20" stroke="#989898" stroke-width="1" />
<line x1="718.53" y1="532.20" x2="718.53" y2="534.70" stroke="#333" stroke-width="1" />
<text x="718.53" y="548.60" font-size="7.6" font-weight="bold" text-anchor="middle" fill="#222" letter-spacing="0.7">60</text>
<line x1="755.86" y1="399.70" x2="755.86" y2="532.20" stroke="#444" stroke-width="1.6" />
<line x1="755.86" y1="532.20" x2="755.86" y2="534.70" stroke="#333" stroke-width="1" />
<text x="755.86" y="548.60" font-size="7.6" font-weight="bold" text-anchor="middle" fill="#222" letter-spacing="0.7">70</text>
<line x1="793.50" y1="399.70" x2="793.50" y2="532.20" stroke="#989898" stroke-width="1" />
<line x1="793.18" y1="532.20" x2="793.18" y2="534.70" stroke="#333" stroke-width="1" />
<text x="793.18" y="548.60" font-size="7.6" font-weight="bold" text-anchor="middle" fill="#222" letter-spacing="0.7">80</text>
<line x1="830.50" y1="532.20" x2="830.50" y2="534.70" stroke="#333" stroke-width="1" />
<text x="830.50" y="548.60" font-size="7.6" font-weight="bold" text-anchor="middle" fill="#222" letter-spacing="0.7">90</text>
<line x1="491.60" y1="532.20" x2="494.60" y2="532.20" stroke="#333" stroke-width="1" />
<text x="488.00" y="534.54" font-size="7.6" font-weight="bold" text-anchor="end" fill="#222" letter-spacing="0.7">0</text>
<line x1="494.60" y1="517.50" x2="830.50" y2="517.50" stroke="#989898" stroke-width="1" />
<line x1="491.60" y1="517.48" x2="494.60" y2="517.48" stroke="#333" stroke-width="1" />
<text x="488.00" y="519.81" font-size="7.6" font-weight="bold" text-anchor="end" fill="#222" letter-spacing="0.7">2</text>
<line x1="494.60" y1="502.76" x2="830.50" y2="502.76" stroke="#444" stroke-width="1.2" />
<line x1="491.60" y1="502.76" x2="494.60" y2="502.76" stroke="#333" stroke-width="1" />
<text x="488.00" y="505.09" font-size="7.6" font-weight="bold" text-anchor="end" fill="#222" letter-spacing="0.7">4</text>
<line x1="494.60" y1="488.50" x2="830.50" y2="488.50" stroke="#989898" stroke-width="1" />
<line x1="491.60" y1="488.03" x2="494.60" y2="488.03" stroke="#333" stroke-width="1" />
<text x="488.00" y="490.37" font-size="7.6" font-weight="bold" text-anchor="end" fill="#222" letter-spacing="0.7">6</text>
<line x1="494.60" y1="473.50" x2="830.50" y2="473.50" stroke="#989898" stroke-width="1" />
<line x1="491.60" y1="473.31" x2="494.60" y2="473.31" stroke="#333" stroke-width="1" />
<text x="488.00" y="475.65" font-size="7.6" font-weight="bold" text-anchor="end" fill="#222" letter-spacing="0.7">8</text>
<line x1="494.60" y1="458.59" x2="830.50" y2="458.59" stroke="#333" stroke-width="1.2" />
<line x1="491.60" y1="458.59" x2="494.60" y2="458.59" stroke="#333" stroke-width="1" />
<text x="488.00" y="460.92" font-size="7.6" font-weight="bold" text-anchor="end" fill="#222" letter-spacing="0.7">10</text>
<line x1="494.60" y1="443.50" x2="830.50" y2="443.50" stroke="#989898" stroke-width="1" />
<line x1="491.60" y1="443.87" x2="494.60" y2="443.87" stroke="#333" stroke-width="1" />
<text x="488.00" y="446.20" font-size="7.6" font-weight="bold" text-anchor="end" fill="#222" letter-spacing="0.7">12</text>
<line x1="494.60" y1="429.14" x2="830.50" y2="429.14" stroke="#333" stroke-width="1.4" />
<line x1="491.60" y1="429.14" x2="494.60" y2="429.14" stroke="#333" stroke-width="1" />
<text x="488.00" y="431.48" font-size="7.6" font-weight="bold" text-anchor="end" fill="#222" letter-spacing="0.7">14</text>
<line x1="494.60" y1="414.50" x2="830.50" y2="414.50" stroke="#989898" stroke-width="1" />
<line x1="491.60" y1="414.42" x2="494.60" y2="414.42" stroke="#333" stroke-width="1" />
<text x="488.00" y="416.76" font-size="7.6" font-weight="bold" text-anchor="end" fill="#222" letter-spacing="0.7">16</text>
<line x1="491.60" y1="399.70" x2="494.60" y2="399.70" stroke="#333" stroke-width="1" />
<text x="488.00" y="402.04" font-size="7.6" font-weight="bold" text-anchor="end" fill="#222" letter-spacing="0.7">18</text>
<line x1="494.60" y1="399.70" x2="830.50" y2="399.70" stroke="#777" stroke-width="1" />
<line x1="830.50" y1="399.70" x2="830.50" y2="532.20" stroke="#777" stroke-width="1" />
<line x1="494.60" y1="532.20" x2="830.50" y2="532.20" stroke="#222" stroke-width="1.6" />
<line x1="494.60" y1="399.70" x2="494.60" y2="532.20" stroke="#222" stroke-width="1.6" />
<text x="662.50" y="564.30" font-size="7.8" font-weight="bold" text-anchor="middle" fill="#222"  textLength="87.0" lengthAdjust="spacing">Casting Time (min.)</text>
<text transform="translate(460.3 465.0) rotate(-90)" font-size="8" font-weight="bold" text-anchor="middle" fill="#222" textLength="92.0" lengthAdjust="spacing">Impurity Level N15 [k/kg]</text>
<polyline points="523.6,506.6 529.6,505.8 534.5,514.3 539.3,507.8 544.8,503.4 615.3,492.6 620.6,490.1 628.6,494.2 660.5,456.4 677.4,437.1 703.2,408.8 708.8,412.9 713.6,426.9 718.4,437.5 723.3,429.8 728.1,445.0 732.9,452.7 738.5,460.0 743.8,466.0 748.6,478.1 753.4,475.7 758.7,487.7 764.0,486.5 769.1,503.4 774.4,501.0 780.0,504.1" fill="none" stroke="#3D1D84" stroke-width="2.4" stroke-linejoin="round"/>
<path d="M523.6 504.3l2.25 2.25l-2.25 2.25l-2.25 -2.25zM529.6 503.6l2.25 2.25l-2.25 2.25l-2.25 -2.25zM534.5 512.0l2.25 2.25l-2.25 2.25l-2.25 -2.25zM539.3 505.5l2.25 2.25l-2.25 2.25l-2.25 -2.25zM544.8 501.2l2.25 2.25l-2.25 2.25l-2.25 -2.25zM615.3 490.3l2.25 2.25l-2.25 2.25l-2.25 -2.25zM620.6 487.9l2.25 2.25l-2.25 2.25l-2.25 -2.25zM628.6 492.0l2.25 2.25l-2.25 2.25l-2.25 -2.25zM660.5 454.1l2.25 2.25l-2.25 2.25l-2.25 -2.25zM677.4 434.8l2.25 2.25l-2.25 2.25l-2.25 -2.25zM703.2 406.6l2.25 2.25l-2.25 2.25l-2.25 -2.25zM708.8 410.7l2.25 2.25l-2.25 2.25l-2.25 -2.25zM713.6 424.7l2.25 2.25l-2.25 2.25l-2.25 -2.25zM718.4 435.3l2.25 2.25l-2.25 2.25l-2.25 -2.25zM723.3 427.6l2.25 2.25l-2.25 2.25l-2.25 -2.25zM728.1 442.8l2.25 2.25l-2.25 2.25l-2.25 -2.25zM732.9 450.5l2.25 2.25l-2.25 2.25l-2.25 -2.25zM738.5 457.7l2.25 2.25l-2.25 2.25l-2.25 -2.25zM743.8 463.8l2.25 2.25l-2.25 2.25l-2.25 -2.25zM748.6 475.8l2.25 2.25l-2.25 2.25l-2.25 -2.25zM753.4 473.4l2.25 2.25l-2.25 2.25l-2.25 -2.25zM758.7 485.5l2.25 2.25l-2.25 2.25l-2.25 -2.25zM764.0 484.3l2.25 2.25l-2.25 2.25l-2.25 -2.25zM769.1 501.2l2.25 2.25l-2.25 2.25l-2.25 -2.25zM774.4 498.8l2.25 2.25l-2.25 2.25l-2.25 -2.25zM780.0 501.9l2.25 2.25l-2.25 2.25l-2.25 -2.25z" fill="#3D1D84"/>
<polyline points="535.7,528.8 541.7,526.9 546.5,528.1 551.4,528.8 556.2,529.8 561.0,524.9 565.8,528.8 570.7,528.3 576.0,527.4 581.5,528.8 586.3,529.8 592.4,528.8 597.7,528.8 603.2,529.3 609.3,529.8 614.8,529.3 620.6,528.3 626.2,528.8 631.0,529.8 636.3,526.9 641.8,529.8 646.7,528.8 651.5,526.9 656.3,528.8 661.7,529.0 666.5,528.5 671.4,527.5 677.4,527.5 682.2,528.5 688.3,526.6 693.1,528.5 699.1,528.5 703.9,529.0 708.8,529.0 714.8,529.0 719.6,528.5 723.3,527.1 729.3,529.0 734.1,528.5 738.9,528.5 743.8,528.0 749.8,529.0 754.6,529.0 759.4,529.5 764.3,529.0 769.1,523.9 774.4,529.5 780.0,529.0" fill="none" stroke="#C822A8" stroke-width="3.2" stroke-linejoin="round"/>
<path d="M533.4 526.5h4.6v4.6h-4.6zM539.4 524.6h4.6v4.6h-4.6zM544.2 525.8h4.6v4.6h-4.6zM549.1 526.5h4.6v4.6h-4.6zM553.9 527.5h4.6v4.6h-4.6zM558.7 522.6h4.6v4.6h-4.6zM563.5 526.5h4.6v4.6h-4.6zM568.4 526.0h4.6v4.6h-4.6zM573.7 525.1h4.6v4.6h-4.6zM579.2 526.5h4.6v4.6h-4.6zM584.0 527.5h4.6v4.6h-4.6zM590.1 526.5h4.6v4.6h-4.6zM595.4 526.5h4.6v4.6h-4.6zM600.9 527.0h4.6v4.6h-4.6zM607.0 527.5h4.6v4.6h-4.6zM612.5 527.0h4.6v4.6h-4.6zM618.3 526.0h4.6v4.6h-4.6zM623.9 526.5h4.6v4.6h-4.6zM628.7 527.5h4.6v4.6h-4.6zM634.0 524.6h4.6v4.6h-4.6zM639.5 527.5h4.6v4.6h-4.6zM644.4 526.5h4.6v4.6h-4.6zM649.2 524.6h4.6v4.6h-4.6zM654.0 526.5h4.6v4.6h-4.6zM659.4 526.7h4.6v4.6h-4.6zM664.2 526.2h4.6v4.6h-4.6zM669.1 525.2h4.6v4.6h-4.6zM675.1 525.2h4.6v4.6h-4.6zM679.9 526.2h4.6v4.6h-4.6zM686.0 524.3h4.6v4.6h-4.6zM690.8 526.2h4.6v4.6h-4.6zM696.8 526.2h4.6v4.6h-4.6zM701.6 526.7h4.6v4.6h-4.6zM706.5 526.7h4.6v4.6h-4.6zM712.5 526.7h4.6v4.6h-4.6zM717.3 526.2h4.6v4.6h-4.6zM721.0 524.8h4.6v4.6h-4.6zM727.0 526.7h4.6v4.6h-4.6zM731.8 526.2h4.6v4.6h-4.6zM736.6 526.2h4.6v4.6h-4.6zM741.5 525.7h4.6v4.6h-4.6zM747.5 526.7h4.6v4.6h-4.6zM752.3 526.7h4.6v4.6h-4.6zM757.1 527.2h4.6v4.6h-4.6zM762.0 526.7h4.6v4.6h-4.6zM766.8 521.6h4.6v4.6h-4.6zM772.1 527.2h4.6v4.6h-4.6zM777.7 526.7h4.6v4.6h-4.6z" fill="#C822A8"/>
<rect x="730.50" y="440.70" width="103.30" height="22.40" fill="#EBFF00" stroke="#333" stroke-width="1" />
<line x1="747.40" y1="446.70" x2="764.30" y2="446.70" stroke="#C822A8" stroke-width="2.3" />
<rect x="753.25" y="444.10" width="5.20" height="5.20" fill="#C822A8" stroke="none" stroke-width="1" />
<text x="765.50" y="449.47" font-size="7.7" font-weight="bold" text-anchor="start" fill="#111"  textLength="43.4" lengthAdjust="spacing">After filter</text>
<line x1="747.40" y1="458.80" x2="764.30" y2="458.80" stroke="#3D1D84" stroke-width="2.3" />
<path d="M755.8 455.8l3.0 3.0l-3.0 3.0l-3.0 -3.0z" fill="#3D1D84"/>
<text x="765.50" y="461.57" font-size="7.7" font-weight="bold" text-anchor="start" fill="#111"  textLength="52.0" lengthAdjust="spacing">Before filter</text>
<line x1="545.30" y1="495.00" x2="610.00" y2="495.00" stroke="#F01010" stroke-width="1.8" />
<path d="M610.0 495.0L601.5 498.3L601.5 491.7z" fill="#F01010"/>
<path d="M545.3 495.0L553.8 491.7L553.8 498.3z" fill="#F01010"/>
<line x1="635.80" y1="482.40" x2="688.30" y2="482.40" stroke="#F01010" stroke-width="1.8" />
<path d="M688.3 482.4L679.8 485.7L679.8 479.1z" fill="#F01010"/>
<path d="M635.8 482.4L644.3 479.1L644.3 485.7z" fill="#F01010"/>
<text x="569.00" y="492.30" font-size="5" font-weight="bold" text-anchor="start" fill="#222"  textLength="13.0" lengthAdjust="spacing">STIR</text>
<text x="654.00" y="481.80" font-size="5" font-weight="bold" text-anchor="start" fill="#222"  textLength="13.0" lengthAdjust="spacing">STIR</text>
<rect x="856.50" y="350.00" width="387.50" height="221.00" fill="#76C6DE" stroke="none" stroke-width="1" />
<line x1="856.50" y1="350.50" x2="1244.00" y2="350.50" stroke="#7A6ACB" stroke-width="1" />
<line x1="1243.50" y1="350.00" x2="1243.50" y2="571.00" stroke="#7A6ACB" stroke-width="1" />
<rect x="993.30" y="354.70" width="112.40" height="15.60" fill="#EBFF00" stroke="#3a3a20" stroke-width="1" />
<text x="997.70" y="365.60" font-size="8.5" font-weight="bold" text-anchor="start" fill="#141414" style="white-space:pre" textLength="106.3" lengthAdjust="spacing">50ppi CFF &amp;  TiCAl 315 rod</text>
<rect x="904.30" y="381.70" width="279.10" height="155.60" fill="#fff" stroke="none" stroke-width="1" />
<line x1="904.30" y1="537.30" x2="904.30" y2="539.80" stroke="#333" stroke-width="1" />
<text x="904.30" y="552.00" font-size="8.3" font-weight="normal" text-anchor="middle" fill="#222" >0</text>
<line x1="939.50" y1="381.70" x2="939.50" y2="537.30" stroke="#666" stroke-width="1" />
<line x1="939.19" y1="537.30" x2="939.19" y2="539.80" stroke="#333" stroke-width="1" />
<text x="939.19" y="552.00" font-size="8.3" font-weight="normal" text-anchor="middle" fill="#222" >10</text>
<line x1="974.50" y1="381.70" x2="974.50" y2="537.30" stroke="#555" stroke-width="1" />
<line x1="974.08" y1="537.30" x2="974.08" y2="539.80" stroke="#333" stroke-width="1" />
<text x="974.08" y="552.00" font-size="8.3" font-weight="normal" text-anchor="middle" fill="#222" >20</text>
<line x1="1008.50" y1="381.70" x2="1008.50" y2="537.30" stroke="#999" stroke-width="1" />
<line x1="1008.96" y1="537.30" x2="1008.96" y2="539.80" stroke="#333" stroke-width="1" />
<text x="1008.96" y="552.00" font-size="8.3" font-weight="normal" text-anchor="middle" fill="#222" >30</text>
<line x1="1043.50" y1="381.70" x2="1043.50" y2="537.30" stroke="#555" stroke-width="1" />
<line x1="1043.85" y1="537.30" x2="1043.85" y2="539.80" stroke="#333" stroke-width="1" />
<text x="1043.85" y="552.00" font-size="8.3" font-weight="normal" text-anchor="middle" fill="#222" >40</text>
<line x1="1078.50" y1="381.70" x2="1078.50" y2="537.30" stroke="#555" stroke-width="1" />
<line x1="1078.74" y1="537.30" x2="1078.74" y2="539.80" stroke="#333" stroke-width="1" />
<text x="1078.74" y="552.00" font-size="8.3" font-weight="normal" text-anchor="middle" fill="#222" >50</text>
<line x1="1113.62" y1="381.70" x2="1113.62" y2="537.30" stroke="#111" stroke-width="1.2" />
<line x1="1113.62" y1="537.30" x2="1113.62" y2="539.80" stroke="#333" stroke-width="1" />
<text x="1113.62" y="552.00" font-size="8.3" font-weight="normal" text-anchor="middle" fill="#222" >60</text>
<line x1="1148.51" y1="381.70" x2="1148.51" y2="537.30" stroke="#c4c4c4" stroke-width="1.2" />
<line x1="1148.51" y1="537.30" x2="1148.51" y2="539.80" stroke="#333" stroke-width="1" />
<text x="1148.51" y="552.00" font-size="8.3" font-weight="normal" text-anchor="middle" fill="#222" >70</text>
<line x1="1183.40" y1="537.30" x2="1183.40" y2="539.80" stroke="#333" stroke-width="1" />
<text x="1183.40" y="552.00" font-size="8.3" font-weight="normal" text-anchor="middle" fill="#222" >80</text>
<line x1="901.30" y1="537.30" x2="904.30" y2="537.30" stroke="#333" stroke-width="1" />
<text x="898.30" y="539.89" font-size="8.3" font-weight="normal" text-anchor="end" fill="#222" >0</text>
<line x1="904.30" y1="515.50" x2="1183.40" y2="515.50" stroke="#777" stroke-width="1" />
<line x1="901.30" y1="515.07" x2="904.30" y2="515.07" stroke="#333" stroke-width="1" />
<text x="898.30" y="517.66" font-size="8.3" font-weight="normal" text-anchor="end" fill="#222" >2</text>
<line x1="904.30" y1="492.50" x2="1183.40" y2="492.50" stroke="#777" stroke-width="1" />
<line x1="901.30" y1="492.84" x2="904.30" y2="492.84" stroke="#333" stroke-width="1" />
<text x="898.30" y="495.43" font-size="8.3" font-weight="normal" text-anchor="end" fill="#222" >4</text>
<line x1="904.30" y1="470.50" x2="1183.40" y2="470.50" stroke="#444" stroke-width="1" />
<line x1="901.30" y1="470.61" x2="904.30" y2="470.61" stroke="#333" stroke-width="1" />
<text x="898.30" y="473.20" font-size="8.3" font-weight="normal" text-anchor="end" fill="#222" >6</text>
<line x1="904.30" y1="448.50" x2="1183.40" y2="448.50" stroke="#666" stroke-width="1" />
<line x1="901.30" y1="448.39" x2="904.30" y2="448.39" stroke="#333" stroke-width="1" />
<text x="898.30" y="450.97" font-size="8.3" font-weight="normal" text-anchor="end" fill="#222" >8</text>
<line x1="904.30" y1="426.50" x2="1183.40" y2="426.50" stroke="#777" stroke-width="1" />
<line x1="901.30" y1="426.16" x2="904.30" y2="426.16" stroke="#333" stroke-width="1" />
<text x="898.30" y="428.75" font-size="8.3" font-weight="normal" text-anchor="end" fill="#222" >10</text>
<line x1="904.30" y1="403.93" x2="1183.40" y2="403.93" stroke="#444" stroke-width="1.1" />
<line x1="901.30" y1="403.93" x2="904.30" y2="403.93" stroke="#333" stroke-width="1" />
<text x="898.30" y="406.52" font-size="8.3" font-weight="normal" text-anchor="end" fill="#222" >12</text>
<line x1="901.30" y1="381.70" x2="904.30" y2="381.70" stroke="#333" stroke-width="1" />
<text x="898.30" y="384.29" font-size="8.3" font-weight="normal" text-anchor="end" fill="#222" >14</text>
<line x1="904.30" y1="537.30" x2="1183.40" y2="537.30" stroke="#222" stroke-width="1.5" />
<line x1="904.30" y1="381.70" x2="904.30" y2="537.30" stroke="#222" stroke-width="1.5" />
<text x="1043.50" y="564.00" font-size="7.5" font-weight="bold" text-anchor="middle" fill="#222"  textLength="70.5" lengthAdjust="spacing">Casting Time (min.)</text>
<text transform="translate(882.0 461.0) rotate(-90)" font-size="7.5" font-weight="bold" text-anchor="middle" fill="#222" textLength="82.7" lengthAdjust="spacing">Impurity level N15 k/kg</text>
<polyline points="948.2,512.0 953.2,515.5 958.0,515.0 962.8,514.2 967.5,514.2 972.0,509.2 977.0,505.8 981.5,514.0 986.2,522.5 991.0,523.2 995.8,527.8 1000.5,528.8 1005.5,520.0 1010.5,509.2 1014.8,525.8 1019.8,520.0 1024.5,518.2 1077.0,500.0 1081.5,492.5 1086.0,509.0 1090.5,505.0 1095.5,493.8 1100.0,491.2 1105.2,496.8 1109.8,480.8 1114.5,509.5 1119.8,497.0 1141.2,498.0 1155.2,512.2 1160.5,480.0 1164.8,506.0" fill="none" stroke="#3F1F98" stroke-width="1.7" stroke-linejoin="round"/>
<path d="M948.2 509.3l2.7 2.7l-2.7 2.7l-2.7 -2.7zM953.2 512.8l2.7 2.7l-2.7 2.7l-2.7 -2.7zM958.0 512.3l2.7 2.7l-2.7 2.7l-2.7 -2.7zM962.8 511.6l2.7 2.7l-2.7 2.7l-2.7 -2.7zM967.5 511.6l2.7 2.7l-2.7 2.7l-2.7 -2.7zM972.0 506.6l2.7 2.7l-2.7 2.7l-2.7 -2.7zM977.0 503.1l2.7 2.7l-2.7 2.7l-2.7 -2.7zM981.5 511.3l2.7 2.7l-2.7 2.7l-2.7 -2.7zM986.2 519.8l2.7 2.7l-2.7 2.7l-2.7 -2.7zM991.0 520.5l2.7 2.7l-2.7 2.7l-2.7 -2.7zM995.8 525.0l2.7 2.7l-2.7 2.7l-2.7 -2.7zM1000.5 526.0l2.7 2.7l-2.7 2.7l-2.7 -2.7zM1005.5 517.3l2.7 2.7l-2.7 2.7l-2.7 -2.7zM1010.5 506.6l2.7 2.7l-2.7 2.7l-2.7 -2.7zM1014.8 523.0l2.7 2.7l-2.7 2.7l-2.7 -2.7zM1019.8 517.3l2.7 2.7l-2.7 2.7l-2.7 -2.7zM1024.5 515.5l2.7 2.7l-2.7 2.7l-2.7 -2.7zM1077.0 497.3l2.7 2.7l-2.7 2.7l-2.7 -2.7zM1081.5 489.8l2.7 2.7l-2.7 2.7l-2.7 -2.7zM1086.0 506.3l2.7 2.7l-2.7 2.7l-2.7 -2.7zM1090.5 502.3l2.7 2.7l-2.7 2.7l-2.7 -2.7zM1095.5 491.1l2.7 2.7l-2.7 2.7l-2.7 -2.7zM1100.0 488.6l2.7 2.7l-2.7 2.7l-2.7 -2.7zM1105.2 494.1l2.7 2.7l-2.7 2.7l-2.7 -2.7zM1109.8 478.1l2.7 2.7l-2.7 2.7l-2.7 -2.7zM1114.5 506.8l2.7 2.7l-2.7 2.7l-2.7 -2.7zM1119.8 494.3l2.7 2.7l-2.7 2.7l-2.7 -2.7zM1141.2 495.3l2.7 2.7l-2.7 2.7l-2.7 -2.7zM1155.2 509.6l2.7 2.7l-2.7 2.7l-2.7 -2.7zM1160.5 477.3l2.7 2.7l-2.7 2.7l-2.7 -2.7zM1164.8 503.3l2.7 2.7l-2.7 2.7l-2.7 -2.7z" fill="#3F1F98"/>
<polyline points="950.0,533.0 955.2,537.0 960.0,535.5 964.8,535.0 969.5,534.8 974.2,536.8 978.5,529.5 985.8,533.0 990.2,535.5 995.0,534.8 1000.0,536.5 1004.8,534.2 1009.5,537.0 1014.0,531.2 1019.0,535.5 1024.5,535.8 1029.2,534.0 1034.0,535.0 1038.8,535.0 1043.5,535.0 1048.2,534.2 1053.0,534.8 1057.8,536.5 1062.8,536.5 1067.5,536.5 1072.2,533.8 1077.0,532.5 1081.8,530.2 1086.2,531.0 1092.0,534.8 1096.5,531.8 1101.0,531.8 1105.8,531.0 1110.2,523.8 1115.0,528.0 1119.0,529.0 1128.5,532.5 1133.5,531.0 1138.2,526.2 1143.0,527.8 1148.0,529.0" fill="none" stroke="#C822A8" stroke-width="1.7" stroke-linejoin="round"/>
<path d="M947.7 530.7h4.6v4.6h-4.6zM953.0 534.7h4.6v4.6h-4.6zM957.7 533.2h4.6v4.6h-4.6zM962.5 532.7h4.6v4.6h-4.6zM967.2 532.5h4.6v4.6h-4.6zM972.0 534.5h4.6v4.6h-4.6zM976.2 527.2h4.6v4.6h-4.6zM983.5 530.7h4.6v4.6h-4.6zM988.0 533.2h4.6v4.6h-4.6zM992.7 532.5h4.6v4.6h-4.6zM997.7 534.2h4.6v4.6h-4.6zM1002.5 532.0h4.6v4.6h-4.6zM1007.2 534.7h4.6v4.6h-4.6zM1011.7 529.0h4.6v4.6h-4.6zM1016.7 533.2h4.6v4.6h-4.6zM1022.2 533.5h4.6v4.6h-4.6zM1027.0 531.7h4.6v4.6h-4.6zM1031.7 532.7h4.6v4.6h-4.6zM1036.5 532.7h4.6v4.6h-4.6zM1041.2 532.7h4.6v4.6h-4.6zM1046.0 532.0h4.6v4.6h-4.6zM1050.7 532.5h4.6v4.6h-4.6zM1055.5 534.2h4.6v4.6h-4.6zM1060.5 534.2h4.6v4.6h-4.6zM1065.2 534.2h4.6v4.6h-4.6zM1070.0 531.5h4.6v4.6h-4.6zM1074.7 530.2h4.6v4.6h-4.6zM1079.5 528.0h4.6v4.6h-4.6zM1084.0 528.7h4.6v4.6h-4.6zM1089.7 532.5h4.6v4.6h-4.6zM1094.2 529.5h4.6v4.6h-4.6zM1098.7 529.5h4.6v4.6h-4.6zM1103.5 528.7h4.6v4.6h-4.6zM1108.0 521.5h4.6v4.6h-4.6zM1112.7 525.7h4.6v4.6h-4.6zM1116.7 526.7h4.6v4.6h-4.6zM1126.2 530.2h4.6v4.6h-4.6zM1131.2 528.7h4.6v4.6h-4.6zM1136.0 524.0h4.6v4.6h-4.6zM1140.7 525.5h4.6v4.6h-4.6zM1145.7 526.7h4.6v4.6h-4.6z" fill="#C822A8"/>
<rect x="1103.30" y="427.00" width="57.20" height="21.30" fill="#EBFF00" stroke="#333" stroke-width="1" />
<line x1="1104.20" y1="432.40" x2="1117.70" y2="432.40" stroke="#4A2AB0" stroke-width="1.5" />
<path d="M1111.0 430.1l2.3 2.3l-2.3 2.3l-2.3 -2.3z" fill="#4A2AB0"/>
<text x="1119.00" y="435.10" font-size="7.5" font-weight="normal" text-anchor="start" fill="#111" stroke="#111" stroke-width="0.3" textLength="40.0" lengthAdjust="spacing">Before filter</text>
<line x1="1104.20" y1="443.00" x2="1117.70" y2="443.00" stroke="#C822A8" stroke-width="1.5" />
<rect x="1109.05" y="441.10" width="3.80" height="3.80" fill="#C822A8" stroke="none" stroke-width="1" />
<text x="1119.00" y="445.70" font-size="7.5" font-weight="normal" text-anchor="start" fill="#111" stroke="#111" stroke-width="0.3" textLength="33.0" lengthAdjust="spacing">After filter</text>
<line x1="994.10" y1="442.20" x2="1024.20" y2="534.60" stroke="#111" stroke-width="1.8" />
<path d="M1024.2 534.6L1019.2 528.9L1024.9 527.0z" fill="#111"/>
<rect x="970.70" y="431.40" width="59.80" height="10.80" fill="#EBFF00" stroke="#444" stroke-width="1" />
<text x="972.60" y="439.40" font-size="7.5" font-weight="normal" text-anchor="start" fill="#222" stroke="#222" stroke-width="0.3" textLength="56.0" lengthAdjust="spacing">Rod in 1kg/tonne</text>
</svg>
<div class="wmark"><span class="wm wms">S</span><span class="wm wmm">MM</span></div>
</body>
</html>
